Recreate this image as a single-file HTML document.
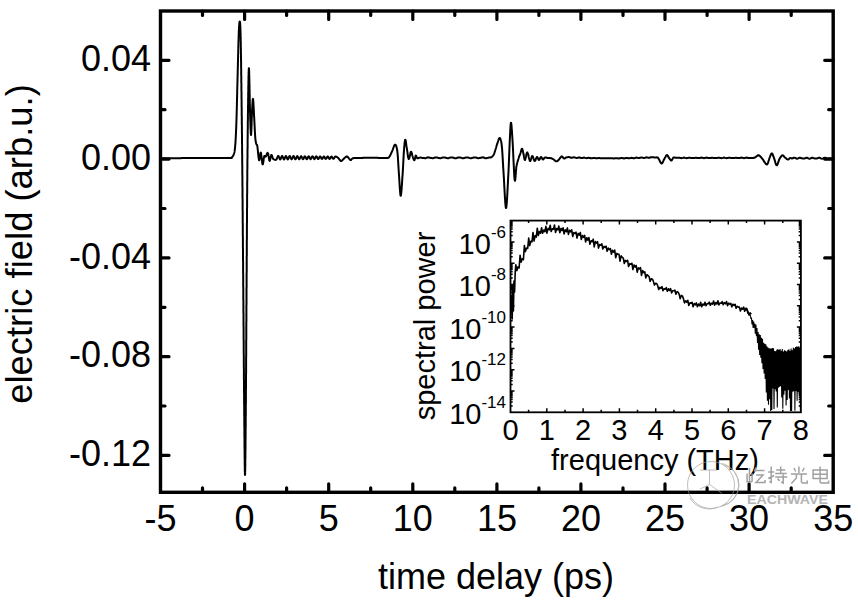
<!DOCTYPE html>
<html><head><meta charset="utf-8"><style>
html,body{margin:0;padding:0;background:#fff;width:858px;height:600px;overflow:hidden}
svg{display:block}
text{font-family:"Liberation Sans",sans-serif;fill:#000}
</style></head><body>
<svg width="858" height="600" viewBox="0 0 858 600">
<rect width="858" height="600" fill="#fff"/>
<path d="M161.5 158.2 L161.8 158.2 L162.1 158.2 L162.5 158.2 L162.9 158.2 L163.3 158.2 L163.7 158.2 L164.1 158.2 L164.5 158.2 L165.0 158.2 L165.5 158.2 L166.0 158.2 L166.5 158.2 L167.0 158.2 L167.5 158.2 L168.1 158.2 L168.6 158.2 L169.2 158.2 L169.8 158.2 L170.4 158.2 L171.0 158.2 L171.6 158.2 L172.3 158.2 L172.9 158.2 L173.5 158.2 L174.2 158.2 L174.8 158.2 L175.5 158.2 L176.2 158.2 L176.9 158.2 L177.6 158.2 L178.2 158.2 L178.9 158.2 L179.6 158.2 L180.3 158.2 L181.0 158.2 L181.7 158.1 L182.4 158.1 L183.2 158.1 L183.9 158.1 L184.6 158.1 L185.3 158.1 L186.0 158.1 L186.7 158.1 L187.4 158.1 L188.1 158.1 L188.8 158.1 L189.5 158.1 L190.1 158.1 L190.8 158.1 L191.5 158.1 L192.2 158.1 L192.8 158.1 L193.5 158.1 L194.1 158.1 L194.8 158.1 L195.4 158.1 L196.0 158.1 L196.6 158.1 L197.2 158.1 L197.8 158.1 L198.4 158.1 L198.9 158.1 L199.5 158.1 L200.0 158.1 L200.7 158.1 L201.4 158.1 L202.1 158.1 L202.8 158.1 L203.5 158.1 L204.3 158.1 L205.0 158.1 L205.7 158.1 L206.4 158.1 L207.1 158.1 L207.8 158.1 L208.5 158.1 L209.2 158.1 L210.0 158.1 L210.7 158.1 L211.4 158.1 L212.0 158.1 L212.7 158.1 L213.4 158.1 L214.1 158.1 L214.8 158.1 L215.4 158.1 L216.1 158.1 L216.8 158.1 L217.4 158.1 L218.0 158.1 L218.7 158.1 L219.3 158.1 L219.9 158.1 L220.5 158.1 L221.1 158.1 L221.6 158.1 L222.2 158.1 L222.8 158.1 L223.3 158.1 L223.8 158.1 L224.4 158.1 L224.9 158.0 L225.3 158.0 L225.8 158.0 L226.3 158.0 L226.7 158.0 L227.1 158.0 L227.5 158.0 L227.9 158.0 L228.3 158.0 L228.7 158.0 L229.0 158.0 L231.5 158.0 L231.9 157.9 L231.5 157.8 L231.5 157.5 L231.9 157.2 L232.4 156.9 L232.8 156.4 L233.1 155.8 L233.5 155.0 L233.7 154.6 L233.8 154.2 L234.0 153.8 L234.1 153.5 L234.2 153.0 L234.4 152.5 L234.5 151.9 L234.6 151.2 L234.7 150.3 L234.9 149.3 L235.0 148.0 L235.0 147.6 L235.1 147.2 L235.1 146.8 L235.1 146.4 L235.2 145.9 L235.2 145.5 L235.3 145.0 L235.3 144.6 L235.3 144.1 L235.4 143.7 L235.4 143.2 L235.4 142.7 L235.5 142.2 L235.5 141.6 L235.5 141.1 L235.6 140.6 L235.6 140.0 L235.6 139.5 L235.7 138.9 L235.7 138.3 L235.7 137.7 L235.8 137.1 L235.8 136.4 L235.8 135.8 L235.9 135.1 L235.9 134.4 L235.9 133.7 L236.0 133.0 L236.0 132.3 L236.0 131.6 L236.1 130.8 L236.1 130.0 L236.1 129.2 L236.2 128.4 L236.2 127.6 L236.2 126.8 L236.3 125.9 L236.3 125.0 L236.3 124.5 L236.3 124.1 L236.3 123.6 L236.4 123.1 L236.4 122.6 L236.4 122.1 L236.4 121.6 L236.4 121.1 L236.4 120.6 L236.5 120.1 L236.5 119.6 L236.5 119.0 L236.5 118.5 L236.5 118.0 L236.5 117.4 L236.6 116.9 L236.6 116.3 L236.6 115.7 L236.6 115.2 L236.6 114.6 L236.6 114.0 L236.7 113.4 L236.7 112.8 L236.7 112.2 L236.7 111.6 L236.7 111.0 L236.7 110.4 L236.8 109.8 L236.8 109.2 L236.8 108.6 L236.8 108.0 L236.8 107.3 L236.8 106.7 L236.9 106.1 L236.9 105.5 L236.9 104.8 L236.9 104.2 L236.9 103.6 L236.9 102.9 L236.9 102.3 L237.0 101.6 L237.0 101.0 L237.0 100.3 L237.0 99.7 L237.0 99.1 L237.0 98.4 L237.1 97.8 L237.1 97.1 L237.1 96.5 L237.1 95.8 L237.1 95.2 L237.1 94.5 L237.2 93.9 L237.2 93.2 L237.2 92.6 L237.2 91.9 L237.2 91.3 L237.2 90.6 L237.2 90.0 L237.3 89.4 L237.3 88.7 L237.3 88.1 L237.3 87.4 L237.3 86.8 L237.3 86.2 L237.4 85.5 L237.4 84.9 L237.4 84.3 L237.4 83.7 L237.4 83.0 L237.4 82.4 L237.5 81.8 L237.5 81.2 L237.5 80.6 L237.5 80.0 L237.5 79.4 L237.5 78.8 L237.5 78.2 L237.6 77.6 L237.6 76.9 L237.6 76.3 L237.6 75.7 L237.6 75.0 L237.6 74.4 L237.7 73.8 L237.7 73.1 L237.7 72.5 L237.7 71.8 L237.7 71.2 L237.7 70.5 L237.8 69.8 L237.8 69.2 L237.8 68.5 L237.8 67.8 L237.8 67.2 L237.8 66.5 L237.9 65.8 L237.9 65.2 L237.9 64.5 L237.9 63.8 L237.9 63.2 L237.9 62.5 L238.0 61.8 L238.0 61.2 L238.0 60.5 L238.0 59.8 L238.0 59.2 L238.0 58.5 L238.1 57.8 L238.1 57.2 L238.1 56.5 L238.1 55.9 L238.1 55.2 L238.1 54.6 L238.2 53.9 L238.2 53.3 L238.2 52.6 L238.2 52.0 L238.2 51.4 L238.2 50.7 L238.3 50.1 L238.3 49.5 L238.3 48.9 L238.3 48.3 L238.3 47.7 L238.3 47.1 L238.3 46.5 L238.4 45.9 L238.4 45.3 L238.4 44.7 L238.4 44.2 L238.4 43.6 L238.4 43.1 L238.5 42.5 L238.5 42.0 L238.5 41.5 L238.5 40.9 L238.5 40.4 L238.5 39.9 L238.6 39.4 L238.6 38.9 L238.6 38.5 L238.6 38.0 L238.6 37.5 L238.6 37.1 L238.6 36.6 L238.7 36.2 L238.7 35.8 L238.7 35.4 L238.7 35.0 L238.7 33.7 L238.8 32.5 L238.8 31.3 L238.9 30.3 L238.9 29.3 L239.0 28.3 L239.0 27.4 L239.1 26.6 L239.1 25.9 L239.2 25.2 L239.2 24.6 L239.3 24.0 L239.3 23.5 L239.4 23.1 L239.4 22.7 L239.4 22.4 L239.5 22.1 L239.5 21.9 L239.6 21.7 L239.6 21.6 L239.7 21.5 L239.7 21.5 L239.7 21.5 L239.8 21.5 L239.8 21.6 L239.9 21.7 L239.9 21.8 L240.0 22.0 L240.0 22.2 L240.0 22.5 L240.1 22.8 L240.1 23.2 L240.2 23.7 L240.2 24.2 L240.2 24.8 L240.3 25.5 L240.3 26.3 L240.4 27.2 L240.4 28.2 L240.4 29.4 L240.5 30.6 L240.5 31.9 L240.6 33.4 L240.6 35.0 L240.6 35.4 L240.6 35.8 L240.6 36.1 L240.6 36.5 L240.6 36.9 L240.7 37.3 L240.7 37.8 L240.7 38.2 L240.7 38.6 L240.7 39.0 L240.7 39.5 L240.7 39.9 L240.7 40.4 L240.7 40.9 L240.7 41.3 L240.7 41.8 L240.8 42.3 L240.8 42.8 L240.8 43.3 L240.8 43.8 L240.8 44.3 L240.8 44.8 L240.8 45.3 L240.8 45.8 L240.8 46.4 L240.8 46.9 L240.8 47.5 L240.9 48.0 L240.9 48.6 L240.9 49.1 L240.9 49.7 L240.9 50.2 L240.9 50.8 L240.9 51.4 L240.9 52.0 L240.9 52.5 L240.9 53.1 L240.9 53.7 L241.0 54.3 L241.0 54.9 L241.0 55.5 L241.0 56.1 L241.0 56.8 L241.0 57.4 L241.0 58.0 L241.0 58.6 L241.0 59.3 L241.0 59.9 L241.0 60.5 L241.1 61.2 L241.1 61.8 L241.1 62.4 L241.1 63.1 L241.1 63.7 L241.1 64.4 L241.1 65.0 L241.1 65.7 L241.1 66.4 L241.1 67.0 L241.1 67.7 L241.2 68.4 L241.2 69.0 L241.2 69.7 L241.2 70.4 L241.2 71.0 L241.2 71.7 L241.2 72.4 L241.2 73.1 L241.2 73.8 L241.2 74.4 L241.2 75.1 L241.3 75.8 L241.3 76.5 L241.3 77.2 L241.3 77.9 L241.3 78.5 L241.3 79.2 L241.3 79.9 L241.3 80.6 L241.3 81.3 L241.3 82.0 L241.3 82.7 L241.4 83.4 L241.4 84.1 L241.4 84.7 L241.4 85.4 L241.4 86.1 L241.4 86.8 L241.4 87.5 L241.4 88.2 L241.4 88.9 L241.4 89.6 L241.4 90.2 L241.4 90.9 L241.5 91.6 L241.5 92.3 L241.5 93.0 L241.5 93.6 L241.5 94.3 L241.5 95.0 L241.5 95.5 L241.5 96.1 L241.5 96.6 L241.5 97.2 L241.5 97.7 L241.5 98.2 L241.5 98.8 L241.6 99.3 L241.6 99.9 L241.6 100.4 L241.6 100.9 L241.6 101.5 L241.6 102.0 L241.6 102.5 L241.6 103.1 L241.6 103.6 L241.6 104.2 L241.6 104.7 L241.6 105.2 L241.6 105.8 L241.6 106.3 L241.6 106.9 L241.7 107.4 L241.7 107.9 L241.7 108.5 L241.7 109.0 L241.7 109.6 L241.7 110.1 L241.7 110.7 L241.7 111.2 L241.7 111.7 L241.7 112.3 L241.7 112.8 L241.7 113.4 L241.7 113.9 L241.7 114.5 L241.7 115.0 L241.7 115.6 L241.8 116.1 L241.8 116.7 L241.8 117.2 L241.8 117.8 L241.8 118.3 L241.8 118.9 L241.8 119.4 L241.8 120.0 L241.8 120.6 L241.8 121.1 L241.8 121.7 L241.8 122.2 L241.8 122.8 L241.8 123.4 L241.8 123.9 L241.8 124.5 L241.9 125.1 L241.9 125.6 L241.9 126.2 L241.9 126.8 L241.9 127.4 L241.9 127.9 L241.9 128.5 L241.9 129.1 L241.9 129.7 L241.9 130.2 L241.9 130.8 L241.9 131.4 L241.9 132.0 L241.9 132.6 L241.9 133.2 L241.9 133.8 L242.0 134.4 L242.0 135.0 L242.0 135.6 L242.0 136.2 L242.0 136.8 L242.0 137.4 L242.0 138.0 L242.0 138.6 L242.0 139.2 L242.0 139.8 L242.0 140.4 L242.0 141.0 L242.0 141.6 L242.0 142.3 L242.0 142.9 L242.0 143.5 L242.1 144.1 L242.1 144.8 L242.1 145.4 L242.1 146.0 L242.1 146.7 L242.1 147.3 L242.1 148.0 L242.1 148.6 L242.1 149.2 L242.1 149.9 L242.1 150.5 L242.1 151.2 L242.1 151.9 L242.1 152.5 L242.1 153.2 L242.1 153.8 L242.2 154.5 L242.2 155.2 L242.2 155.9 L242.2 156.5 L242.2 157.2 L242.2 157.9 L242.2 158.6 L242.2 159.3 L242.2 160.0 L242.2 160.7 L242.2 161.4 L242.2 162.1 L242.2 162.8 L242.2 163.5 L242.2 164.2 L242.3 164.9 L242.3 165.6 L242.3 166.3 L242.3 167.1 L242.3 167.8 L242.3 168.5 L242.3 169.3 L242.3 170.0 L242.3 170.5 L242.3 171.0 L242.3 171.5 L242.3 172.0 L242.3 172.5 L242.3 173.1 L242.3 173.6 L242.3 174.1 L242.3 174.6 L242.3 175.1 L242.4 175.6 L242.4 176.2 L242.4 176.7 L242.4 177.2 L242.4 177.7 L242.4 178.3 L242.4 178.8 L242.4 179.3 L242.4 179.9 L242.4 180.4 L242.4 180.9 L242.4 181.5 L242.4 182.0 L242.4 182.5 L242.4 183.1 L242.4 183.6 L242.4 184.2 L242.4 184.7 L242.4 185.3 L242.4 185.8 L242.4 186.4 L242.5 186.9 L242.5 187.4 L242.5 188.0 L242.5 188.6 L242.5 189.1 L242.5 189.7 L242.5 190.2 L242.5 190.8 L242.5 191.3 L242.5 191.9 L242.5 192.5 L242.5 193.0 L242.5 193.6 L242.5 194.1 L242.5 194.7 L242.5 195.3 L242.5 195.8 L242.5 196.4 L242.5 197.0 L242.5 197.6 L242.5 198.1 L242.6 198.7 L242.6 199.3 L242.6 199.9 L242.6 200.4 L242.6 201.0 L242.6 201.6 L242.6 202.2 L242.6 202.8 L242.6 203.3 L242.6 203.9 L242.6 204.5 L242.6 205.1 L242.6 205.7 L242.6 206.3 L242.6 206.8 L242.6 207.4 L242.6 208.0 L242.6 208.6 L242.6 209.2 L242.6 209.8 L242.6 210.4 L242.7 211.0 L242.7 211.6 L242.7 212.2 L242.7 212.8 L242.7 213.4 L242.7 214.0 L242.7 214.6 L242.7 215.2 L242.7 215.8 L242.7 216.4 L242.7 217.0 L242.7 217.6 L242.7 218.2 L242.7 218.8 L242.7 219.4 L242.7 220.0 L242.7 220.6 L242.7 221.3 L242.7 221.9 L242.7 222.5 L242.7 223.1 L242.8 223.7 L242.8 224.3 L242.8 224.9 L242.8 225.6 L242.8 226.2 L242.8 226.8 L242.8 227.4 L242.8 228.0 L242.8 228.6 L242.8 229.3 L242.8 229.9 L242.8 230.5 L242.8 231.1 L242.8 231.8 L242.8 232.4 L242.8 233.0 L242.8 233.6 L242.8 234.3 L242.8 234.9 L242.8 235.5 L242.9 236.1 L242.9 236.8 L242.9 237.4 L242.9 238.0 L242.9 238.7 L242.9 239.3 L242.9 239.9 L242.9 240.6 L242.9 241.2 L242.9 241.8 L242.9 242.5 L242.9 243.1 L242.9 243.7 L242.9 244.4 L242.9 245.0 L242.9 245.6 L242.9 246.3 L242.9 246.9 L242.9 247.6 L242.9 248.2 L243.0 248.8 L243.0 249.5 L243.0 250.1 L243.0 250.8 L243.0 251.4 L243.0 252.0 L243.0 252.7 L243.0 253.3 L243.0 254.0 L243.0 254.6 L243.0 255.3 L243.0 255.9 L243.0 256.5 L243.0 257.2 L243.0 257.8 L243.0 258.5 L243.0 259.1 L243.0 259.8 L243.0 260.4 L243.1 261.1 L243.1 261.7 L243.1 262.4 L243.1 263.0 L243.1 263.7 L243.1 264.3 L243.1 265.0 L243.1 265.6 L243.1 266.3 L243.1 266.9 L243.1 267.6 L243.1 268.2 L243.1 268.9 L243.1 269.5 L243.1 270.2 L243.1 270.8 L243.1 271.5 L243.1 272.1 L243.1 272.8 L243.1 273.5 L243.2 274.1 L243.2 274.8 L243.2 275.4 L243.2 276.1 L243.2 276.7 L243.2 277.4 L243.2 278.0 L243.2 278.7 L243.2 279.3 L243.2 280.0 L243.2 280.6 L243.2 281.1 L243.2 281.7 L243.2 282.2 L243.2 282.8 L243.2 283.4 L243.2 283.9 L243.2 284.5 L243.2 285.1 L243.2 285.7 L243.2 286.2 L243.3 286.8 L243.3 287.4 L243.3 288.0 L243.3 288.6 L243.3 289.2 L243.3 289.7 L243.3 290.3 L243.3 290.9 L243.3 291.5 L243.3 292.1 L243.3 292.7 L243.3 293.3 L243.3 293.9 L243.3 294.5 L243.3 295.1 L243.3 295.7 L243.3 296.3 L243.3 297.0 L243.3 297.6 L243.3 298.2 L243.3 298.8 L243.3 299.4 L243.4 300.0 L243.4 300.6 L243.4 301.3 L243.4 301.9 L243.4 302.5 L243.4 303.1 L243.4 303.8 L243.4 304.4 L243.4 305.0 L243.4 305.6 L243.4 306.3 L243.4 306.9 L243.4 307.5 L243.4 308.2 L243.4 308.8 L243.4 309.4 L243.4 310.1 L243.4 310.7 L243.4 311.3 L243.4 312.0 L243.4 312.6 L243.5 313.3 L243.5 313.9 L243.5 314.5 L243.5 315.2 L243.5 315.8 L243.5 316.5 L243.5 317.1 L243.5 317.8 L243.5 318.4 L243.5 319.1 L243.5 319.7 L243.5 320.4 L243.5 321.0 L243.5 321.7 L243.5 322.3 L243.5 323.0 L243.5 323.6 L243.5 324.3 L243.5 324.9 L243.5 325.6 L243.5 326.2 L243.6 326.9 L243.6 327.5 L243.6 328.2 L243.6 328.8 L243.6 329.5 L243.6 330.1 L243.6 330.8 L243.6 331.5 L243.6 332.1 L243.6 332.8 L243.6 333.4 L243.6 334.1 L243.6 334.7 L243.6 335.4 L243.6 336.0 L243.6 336.7 L243.6 337.4 L243.6 338.0 L243.6 338.7 L243.6 339.3 L243.6 340.0 L243.7 340.6 L243.7 341.3 L243.7 341.9 L243.7 342.6 L243.7 343.2 L243.7 343.9 L243.7 344.6 L243.7 345.2 L243.7 345.9 L243.7 346.5 L243.7 347.2 L243.7 347.8 L243.7 348.5 L243.7 349.1 L243.7 349.8 L243.7 350.4 L243.7 351.1 L243.7 351.7 L243.7 352.4 L243.7 353.0 L243.7 353.6 L243.8 354.3 L243.8 354.9 L243.8 355.6 L243.8 356.2 L243.8 356.9 L243.8 357.5 L243.8 358.2 L243.8 358.8 L243.8 359.4 L243.8 360.1 L243.8 360.7 L243.8 361.3 L243.8 362.0 L243.8 362.6 L243.8 363.2 L243.8 363.9 L243.8 364.5 L243.8 365.1 L243.8 365.8 L243.8 366.4 L243.8 367.0 L243.9 367.6 L243.9 368.3 L243.9 368.9 L243.9 369.5 L243.9 370.1 L243.9 370.7 L243.9 371.4 L243.9 372.0 L243.9 372.6 L243.9 373.2 L243.9 373.8 L243.9 374.4 L243.9 375.0 L243.9 375.6 L243.9 376.2 L243.9 376.8 L243.9 377.4 L243.9 378.0 L243.9 378.6 L243.9 379.2 L243.9 379.8 L244.0 380.4 L244.0 381.0 L244.0 381.6 L244.0 382.2 L244.0 382.8 L244.0 383.4 L244.0 383.9 L244.0 384.5 L244.0 385.1 L244.0 385.7 L244.0 386.2 L244.0 386.8 L244.0 387.4 L244.0 388.0 L244.0 388.5 L244.0 389.1 L244.0 389.6 L244.0 390.2 L244.0 390.8 L244.0 391.3 L244.0 391.9 L244.0 392.4 L244.1 393.0 L244.1 393.5 L244.1 394.0 L244.1 394.6 L244.1 395.1 L244.1 395.7 L244.1 396.2 L244.1 396.7 L244.1 397.3 L244.1 397.8 L244.1 398.3 L244.1 398.8 L244.1 399.3 L244.1 399.9 L244.1 400.4 L244.1 400.9 L244.1 401.4 L244.1 401.9 L244.1 402.4 L244.1 402.9 L244.1 403.4 L244.1 403.9 L244.1 404.4 L244.2 404.8 L244.2 405.3 L244.2 405.8 L244.2 406.3 L244.2 406.8 L244.2 407.2 L244.2 407.7 L244.2 408.2 L244.2 408.6 L244.2 409.1 L244.2 409.5 L244.2 410.0 L244.2 410.9 L244.2 411.8 L244.2 412.7 L244.2 413.6 L244.2 414.5 L244.2 415.4 L244.3 416.3 L244.3 417.2 L244.3 418.1 L244.3 419.0 L244.3 419.9 L244.3 420.8 L244.3 421.7 L244.3 422.6 L244.3 423.5 L244.3 424.3 L244.3 425.2 L244.3 426.1 L244.4 427.0 L244.4 427.8 L244.4 428.7 L244.4 429.6 L244.4 430.4 L244.4 431.3 L244.4 432.2 L244.4 433.0 L244.4 433.9 L244.4 434.7 L244.4 435.6 L244.4 436.4 L244.4 437.2 L244.5 438.0 L244.5 438.9 L244.5 439.7 L244.5 440.5 L244.5 441.3 L244.5 442.1 L244.5 442.9 L244.5 443.7 L244.5 444.5 L244.5 445.2 L244.5 446.0 L244.5 446.8 L244.5 447.5 L244.5 448.3 L244.6 449.0 L244.6 449.8 L244.6 450.5 L244.6 451.2 L244.6 451.9 L244.6 452.6 L244.6 453.3 L244.6 454.0 L244.6 454.7 L244.6 455.4 L244.6 456.0 L244.6 456.7 L244.6 457.3 L244.6 458.0 L244.7 458.6 L244.7 459.2 L244.7 459.8 L244.7 460.4 L244.7 461.0 L244.7 461.6 L244.7 462.2 L244.7 462.7 L244.7 463.3 L244.7 463.8 L244.7 464.3 L244.7 464.9 L244.7 465.4 L244.7 465.9 L244.8 466.4 L244.8 466.8 L244.8 467.3 L244.8 467.7 L244.8 468.2 L244.8 468.6 L244.8 469.0 L244.8 469.4 L244.8 469.8 L244.8 470.2 L244.8 470.5 L244.8 470.9 L244.8 471.2 L244.8 471.6 L244.9 471.9 L244.9 472.2 L244.9 472.4 L244.9 472.7 L244.9 473.0 L244.9 473.2 L244.9 473.4 L244.9 473.6 L244.9 473.8 L244.9 474.0 L244.9 474.2 L244.9 474.3 L244.9 474.5 L244.9 474.6 L245.0 474.7 L245.0 474.8 L245.0 474.9 L245.0 474.9 L245.0 475.0 L245.0 475.0 L245.0 475.0 L245.0 475.0 L245.0 475.0 L245.0 474.9 L245.0 474.9 L245.0 474.8 L245.0 474.7 L245.1 474.6 L245.1 474.5 L245.1 474.3 L245.1 474.2 L245.1 474.0 L245.1 473.8 L245.1 473.6 L245.1 473.4 L245.1 473.2 L245.1 473.0 L245.1 472.7 L245.1 472.4 L245.1 472.2 L245.1 471.9 L245.2 471.6 L245.2 471.2 L245.2 470.9 L245.2 470.5 L245.2 470.2 L245.2 469.8 L245.2 469.4 L245.2 469.0 L245.2 468.6 L245.2 468.2 L245.2 467.7 L245.2 467.3 L245.2 466.8 L245.3 466.4 L245.3 465.9 L245.3 465.4 L245.3 464.9 L245.3 464.3 L245.3 463.8 L245.3 463.3 L245.3 462.7 L245.3 462.2 L245.3 461.6 L245.3 461.0 L245.3 460.4 L245.3 459.8 L245.3 459.2 L245.4 458.6 L245.4 458.0 L245.4 457.3 L245.4 456.7 L245.4 456.0 L245.4 455.4 L245.4 454.7 L245.4 454.0 L245.4 453.3 L245.4 452.6 L245.4 451.9 L245.4 451.2 L245.4 450.5 L245.5 449.8 L245.5 449.0 L245.5 448.3 L245.5 447.5 L245.5 446.8 L245.5 446.0 L245.5 445.2 L245.5 444.5 L245.5 443.7 L245.5 442.9 L245.5 442.1 L245.5 441.3 L245.5 440.5 L245.5 439.7 L245.6 438.9 L245.6 438.0 L245.6 437.2 L245.6 436.4 L245.6 435.6 L245.6 434.7 L245.6 433.9 L245.6 433.0 L245.6 432.2 L245.6 431.3 L245.6 430.4 L245.6 429.6 L245.6 428.7 L245.7 427.8 L245.7 427.0 L245.7 426.1 L245.7 425.2 L245.7 424.3 L245.7 423.5 L245.7 422.6 L245.7 421.7 L245.7 420.8 L245.7 419.9 L245.7 419.0 L245.7 418.1 L245.7 417.2 L245.7 416.3 L245.8 415.4 L245.8 414.5 L245.8 413.6 L245.8 412.7 L245.8 411.8 L245.8 410.9 L245.8 410.0 L245.8 409.5 L245.8 409.1 L245.8 408.6 L245.8 408.2 L245.8 407.7 L245.8 407.2 L245.8 406.8 L245.8 406.3 L245.8 405.8 L245.8 405.3 L245.8 404.8 L245.8 404.4 L245.8 403.9 L245.9 403.4 L245.9 402.9 L245.9 402.4 L245.9 401.9 L245.9 401.4 L245.9 400.9 L245.9 400.3 L245.9 399.8 L245.9 399.3 L245.9 398.8 L245.9 398.3 L245.9 397.7 L245.9 397.2 L245.9 396.7 L245.9 396.2 L245.9 395.6 L245.9 395.1 L245.9 394.5 L245.9 394.0 L245.9 393.5 L245.9 392.9 L245.9 392.4 L245.9 391.8 L245.9 391.3 L245.9 390.7 L245.9 390.1 L245.9 389.6 L246.0 389.0 L246.0 388.4 L246.0 387.9 L246.0 387.3 L246.0 386.7 L246.0 386.2 L246.0 385.6 L246.0 385.0 L246.0 384.4 L246.0 383.8 L246.0 383.3 L246.0 382.7 L246.0 382.1 L246.0 381.5 L246.0 380.9 L246.0 380.3 L246.0 379.7 L246.0 379.1 L246.0 378.5 L246.0 377.9 L246.0 377.3 L246.0 376.7 L246.0 376.1 L246.0 375.5 L246.0 374.9 L246.0 374.3 L246.1 373.6 L246.1 373.0 L246.1 372.4 L246.1 371.8 L246.1 371.2 L246.1 370.6 L246.1 369.9 L246.1 369.3 L246.1 368.7 L246.1 368.1 L246.1 367.4 L246.1 366.8 L246.1 366.2 L246.1 365.5 L246.1 364.9 L246.1 364.3 L246.1 363.6 L246.1 363.0 L246.1 362.4 L246.1 361.7 L246.1 361.1 L246.1 360.5 L246.1 359.8 L246.1 359.2 L246.1 358.5 L246.1 357.9 L246.1 357.2 L246.2 356.6 L246.2 356.0 L246.2 355.3 L246.2 354.7 L246.2 354.0 L246.2 353.4 L246.2 352.7 L246.2 352.1 L246.2 351.4 L246.2 350.8 L246.2 350.1 L246.2 349.5 L246.2 348.8 L246.2 348.2 L246.2 347.5 L246.2 346.8 L246.2 346.2 L246.2 345.5 L246.2 344.9 L246.2 344.2 L246.2 343.6 L246.2 342.9 L246.2 342.3 L246.2 341.6 L246.2 340.9 L246.2 340.3 L246.3 339.6 L246.3 339.0 L246.3 338.3 L246.3 337.7 L246.3 337.0 L246.3 336.3 L246.3 335.7 L246.3 335.0 L246.3 334.4 L246.3 333.7 L246.3 333.1 L246.3 332.4 L246.3 331.7 L246.3 331.1 L246.3 330.4 L246.3 329.8 L246.3 329.1 L246.3 328.5 L246.3 327.8 L246.3 327.2 L246.3 326.5 L246.3 325.8 L246.3 325.2 L246.3 324.5 L246.3 323.9 L246.3 323.2 L246.3 322.6 L246.4 321.9 L246.4 321.3 L246.4 320.6 L246.4 320.0 L246.4 319.3 L246.4 318.7 L246.4 318.0 L246.4 317.4 L246.4 316.8 L246.4 316.1 L246.4 315.5 L246.4 314.8 L246.4 314.2 L246.4 313.5 L246.4 312.9 L246.4 312.3 L246.4 311.6 L246.4 311.0 L246.4 310.4 L246.4 309.7 L246.4 309.1 L246.4 308.5 L246.4 307.8 L246.4 307.2 L246.4 306.6 L246.4 305.9 L246.4 305.3 L246.5 304.7 L246.5 304.1 L246.5 303.4 L246.5 302.8 L246.5 302.2 L246.5 301.6 L246.5 301.0 L246.5 300.4 L246.5 299.7 L246.5 299.1 L246.5 298.5 L246.5 297.9 L246.5 297.3 L246.5 296.7 L246.5 296.1 L246.5 295.5 L246.5 294.9 L246.5 294.3 L246.5 293.7 L246.5 293.1 L246.5 292.5 L246.5 291.9 L246.5 291.3 L246.5 290.7 L246.5 290.2 L246.5 289.6 L246.5 289.0 L246.5 288.4 L246.6 287.8 L246.6 287.3 L246.6 286.7 L246.6 286.1 L246.6 285.6 L246.6 285.0 L246.6 284.4 L246.6 283.9 L246.6 283.3 L246.6 282.8 L246.6 282.2 L246.6 281.6 L246.6 281.1 L246.6 280.5 L246.6 280.0 L246.6 279.3 L246.6 278.7 L246.6 278.0 L246.6 277.3 L246.6 276.7 L246.6 276.0 L246.6 275.3 L246.6 274.7 L246.6 274.0 L246.6 273.3 L246.6 272.7 L246.7 272.0 L246.7 271.3 L246.7 270.7 L246.7 270.0 L246.7 269.4 L246.7 268.7 L246.7 268.0 L246.7 267.4 L246.7 266.7 L246.7 266.1 L246.7 265.4 L246.7 264.8 L246.7 264.1 L246.7 263.5 L246.7 262.8 L246.7 262.2 L246.7 261.5 L246.7 260.9 L246.7 260.2 L246.7 259.6 L246.7 258.9 L246.7 258.3 L246.7 257.6 L246.7 257.0 L246.7 256.4 L246.8 255.7 L246.8 255.1 L246.8 254.4 L246.8 253.8 L246.8 253.2 L246.8 252.5 L246.8 251.9 L246.8 251.2 L246.8 250.6 L246.8 250.0 L246.8 249.3 L246.8 248.7 L246.8 248.1 L246.8 247.4 L246.8 246.8 L246.8 246.2 L246.8 245.6 L246.8 244.9 L246.8 244.3 L246.8 243.7 L246.8 243.1 L246.8 242.4 L246.8 241.8 L246.8 241.2 L246.8 240.6 L246.8 239.9 L246.9 239.3 L246.9 238.7 L246.9 238.1 L246.9 237.5 L246.9 236.8 L246.9 236.2 L246.9 235.6 L246.9 235.0 L246.9 234.4 L246.9 233.8 L246.9 233.2 L246.9 232.5 L246.9 231.9 L246.9 231.3 L246.9 230.7 L246.9 230.1 L246.9 229.5 L246.9 228.9 L246.9 228.3 L246.9 227.7 L246.9 227.1 L246.9 226.5 L246.9 225.9 L246.9 225.3 L246.9 224.7 L246.9 224.1 L246.9 223.5 L247.0 222.9 L247.0 222.3 L247.0 221.7 L247.0 221.1 L247.0 220.5 L247.0 219.9 L247.0 219.3 L247.0 218.7 L247.0 218.1 L247.0 217.5 L247.0 216.9 L247.0 216.3 L247.0 215.8 L247.0 215.2 L247.0 214.6 L247.0 214.0 L247.0 213.4 L247.0 212.8 L247.0 212.2 L247.0 211.7 L247.0 211.1 L247.0 210.5 L247.0 209.9 L247.0 209.3 L247.0 208.8 L247.0 208.2 L247.1 207.6 L247.1 207.0 L247.1 206.5 L247.1 205.9 L247.1 205.3 L247.1 204.7 L247.1 204.2 L247.1 203.6 L247.1 203.0 L247.1 202.4 L247.1 201.9 L247.1 201.3 L247.1 200.7 L247.1 200.2 L247.1 199.6 L247.1 199.0 L247.1 198.5 L247.1 197.9 L247.1 197.4 L247.1 196.8 L247.1 196.2 L247.1 195.7 L247.1 195.1 L247.1 194.6 L247.1 194.0 L247.2 193.4 L247.2 192.9 L247.2 192.3 L247.2 191.8 L247.2 191.2 L247.2 190.7 L247.2 190.1 L247.2 189.6 L247.2 189.0 L247.2 188.5 L247.2 187.9 L247.2 187.4 L247.2 186.8 L247.2 186.3 L247.2 185.7 L247.2 185.2 L247.2 184.6 L247.2 184.1 L247.2 183.6 L247.2 183.0 L247.2 182.5 L247.2 181.9 L247.2 181.4 L247.3 180.9 L247.3 180.3 L247.3 179.8 L247.3 179.3 L247.3 178.7 L247.3 178.2 L247.3 177.7 L247.3 177.1 L247.3 176.6 L247.3 176.1 L247.3 175.5 L247.3 175.0 L247.3 174.3 L247.3 173.6 L247.3 172.9 L247.3 172.2 L247.3 171.5 L247.3 170.8 L247.3 170.1 L247.3 169.4 L247.4 168.7 L247.4 168.0 L247.4 167.3 L247.4 166.7 L247.4 166.0 L247.4 165.3 L247.4 164.6 L247.4 163.9 L247.4 163.2 L247.4 162.5 L247.4 161.8 L247.4 161.1 L247.4 160.4 L247.4 159.7 L247.4 159.0 L247.5 158.3 L247.5 157.6 L247.5 157.0 L247.5 156.3 L247.5 155.6 L247.5 154.9 L247.5 154.2 L247.5 153.5 L247.5 152.8 L247.5 152.2 L247.5 151.5 L247.5 150.8 L247.5 150.1 L247.5 149.4 L247.5 148.8 L247.6 148.1 L247.6 147.4 L247.6 146.7 L247.6 146.1 L247.6 145.4 L247.6 144.7 L247.6 144.1 L247.6 143.4 L247.6 142.7 L247.6 142.1 L247.6 141.4 L247.6 140.7 L247.6 140.1 L247.6 139.4 L247.6 138.8 L247.7 138.1 L247.7 137.5 L247.7 136.8 L247.7 136.2 L247.7 135.5 L247.7 134.9 L247.7 134.2 L247.7 133.6 L247.7 132.9 L247.7 132.3 L247.7 131.7 L247.7 131.0 L247.7 130.4 L247.7 129.8 L247.8 129.2 L247.8 128.5 L247.8 127.9 L247.8 127.3 L247.8 126.7 L247.8 126.1 L247.8 125.4 L247.8 124.8 L247.8 124.2 L247.8 123.6 L247.8 123.0 L247.8 122.4 L247.8 121.8 L247.8 121.2 L247.9 120.6 L247.9 120.1 L247.9 119.5 L247.9 118.9 L247.9 118.3 L247.9 117.7 L247.9 117.2 L247.9 116.6 L247.9 116.0 L247.9 115.5 L247.9 114.9 L247.9 114.3 L247.9 113.8 L247.9 113.2 L248.0 112.7 L248.0 112.1 L248.0 111.6 L248.0 111.1 L248.0 110.5 L248.0 110.0 L248.0 109.5 L248.0 108.9 L248.0 108.4 L248.0 107.9 L248.0 107.4 L248.0 106.9 L248.0 106.4 L248.0 105.9 L248.0 105.4 L248.1 104.9 L248.1 104.4 L248.1 103.9 L248.1 103.4 L248.1 102.9 L248.1 102.4 L248.1 102.0 L248.1 101.5 L248.1 101.0 L248.1 100.6 L248.1 100.1 L248.1 99.7 L248.1 99.2 L248.1 98.8 L248.1 98.3 L248.2 97.9 L248.2 97.5 L248.2 97.1 L248.2 96.6 L248.2 96.2 L248.2 95.8 L248.2 95.4 L248.2 95.0 L248.2 93.8 L248.2 92.6 L248.3 91.5 L248.3 90.3 L248.3 89.2 L248.3 88.1 L248.3 87.1 L248.3 86.0 L248.4 85.0 L248.4 84.0 L248.4 83.0 L248.4 82.1 L248.4 81.2 L248.5 80.3 L248.5 79.4 L248.5 78.6 L248.5 77.8 L248.5 77.0 L248.5 76.2 L248.6 75.5 L248.6 74.8 L248.6 74.2 L248.6 73.5 L248.6 72.9 L248.6 72.4 L248.7 71.8 L248.7 71.3 L248.7 70.9 L248.7 70.4 L248.7 70.1 L248.8 69.7 L248.8 69.4 L248.8 69.1 L248.8 68.8 L248.8 68.6 L248.8 68.5 L248.9 68.3 L248.9 68.2 L248.9 68.2 L248.9 68.2 L248.9 68.2 L249.0 68.2 L249.0 68.4 L249.0 68.5 L249.0 68.6 L249.0 68.8 L249.0 69.0 L249.1 69.2 L249.1 69.4 L249.1 69.7 L249.1 70.0 L249.1 70.3 L249.1 70.7 L249.1 71.1 L249.1 71.5 L249.2 71.9 L249.2 72.3 L249.2 72.8 L249.2 73.3 L249.2 73.8 L249.2 74.3 L249.2 74.9 L249.3 75.5 L249.3 76.1 L249.3 76.7 L249.3 77.3 L249.3 77.9 L249.3 78.6 L249.3 79.2 L249.4 79.9 L249.4 80.6 L249.4 81.3 L249.4 82.0 L249.4 82.7 L249.4 83.4 L249.5 84.2 L249.5 84.9 L249.5 85.7 L249.5 86.4 L249.5 87.2 L249.5 87.9 L249.5 88.7 L249.6 89.5 L249.6 90.2 L249.6 91.0 L249.6 91.8 L249.6 92.6 L249.6 93.3 L249.6 94.1 L249.7 94.9 L249.7 95.6 L249.7 96.4 L249.7 97.1 L249.7 97.9 L249.7 98.6 L249.7 99.4 L249.8 100.1 L249.8 100.8 L249.8 101.5 L249.8 102.2 L249.8 102.9 L249.8 103.6 L249.9 104.2 L249.9 104.9 L249.9 105.5 L249.9 106.2 L249.9 106.8 L249.9 107.3 L249.9 107.9 L250.0 108.5 L250.0 109.0 L250.0 109.5 L250.0 110.0 L250.0 110.8 L250.0 111.6 L250.1 112.5 L250.1 113.3 L250.1 114.1 L250.1 115.0 L250.2 115.8 L250.2 116.7 L250.2 117.5 L250.2 118.3 L250.3 119.2 L250.3 120.0 L250.3 120.8 L250.3 121.6 L250.4 122.4 L250.4 123.2 L250.4 124.0 L250.4 124.7 L250.5 125.5 L250.5 126.2 L250.5 126.9 L250.5 127.6 L250.6 128.2 L250.6 128.9 L250.6 129.5 L250.6 130.1 L250.7 130.7 L250.7 131.2 L250.7 131.7 L250.7 132.2 L250.8 132.6 L250.8 133.0 L250.8 133.4 L250.8 133.7 L250.9 134.1 L250.9 134.3 L250.9 134.5 L250.9 134.7 L251.0 134.9 L251.0 135.0 L251.0 135.0 L251.0 135.0 L251.1 134.9 L251.1 134.8 L251.1 134.6 L251.1 134.3 L251.2 134.0 L251.2 133.6 L251.2 133.1 L251.2 132.6 L251.3 132.1 L251.3 131.6 L251.3 130.9 L251.3 130.3 L251.4 129.6 L251.4 128.9 L251.4 128.2 L251.4 127.4 L251.5 126.7 L251.5 125.9 L251.5 125.1 L251.6 124.3 L251.6 123.4 L251.6 122.6 L251.6 121.8 L251.7 121.0 L251.7 120.2 L251.7 119.4 L251.7 118.6 L251.8 117.8 L251.8 117.0 L251.8 116.3 L251.8 115.6 L251.9 114.9 L251.9 114.2 L251.9 113.6 L251.9 113.0 L252.0 112.5 L252.0 112.0 L252.0 111.1 L252.1 110.2 L252.1 109.3 L252.2 108.4 L252.2 107.5 L252.3 106.6 L252.3 105.7 L252.4 104.9 L252.4 104.0 L252.5 103.3 L252.5 102.5 L252.6 101.8 L252.6 101.2 L252.7 100.6 L252.7 100.1 L252.7 99.7 L252.8 99.3 L252.8 99.1 L252.9 98.9 L252.9 98.9 L253.0 99.0 L253.0 99.1 L253.1 99.3 L253.1 99.6 L253.1 99.9 L253.2 100.2 L253.2 100.6 L253.3 101.1 L253.3 101.6 L253.3 102.1 L253.4 102.7 L253.4 103.3 L253.5 104.0 L253.5 104.7 L253.5 105.4 L253.6 106.1 L253.6 106.8 L253.7 107.6 L253.7 108.3 L253.7 109.1 L253.8 109.9 L253.8 110.7 L253.9 111.5 L253.9 112.2 L253.9 113.0 L254.0 113.8 L254.0 114.5 L254.0 115.3 L254.1 116.0 L254.1 116.7 L254.2 117.4 L254.2 118.0 L254.2 118.6 L254.3 119.2 L254.3 119.8 L254.3 120.5 L254.4 121.1 L254.4 121.8 L254.4 122.4 L254.5 123.1 L254.5 123.8 L254.5 124.4 L254.6 125.1 L254.6 125.8 L254.6 126.5 L254.7 127.1 L254.7 127.8 L254.7 128.5 L254.8 129.1 L254.8 129.8 L254.8 130.4 L254.9 131.1 L254.9 131.7 L254.9 132.3 L255.0 132.9 L255.0 133.5 L255.0 134.1 L255.1 134.7 L255.1 135.2 L255.1 135.7 L255.2 136.2 L255.2 136.7 L255.2 137.2 L255.3 137.6 L255.3 138.0 L255.4 139.2 L255.5 140.2 L255.6 141.0 L255.7 141.6 L255.8 142.1 L255.9 142.6 L256.0 142.9 L256.1 143.3 L256.2 143.6 L256.3 144.0 L256.6 144.5 L256.9 144.6 L257.3 146.0 L257.4 146.4 L257.4 146.9 L257.5 147.4 L257.6 148.0 L257.6 148.7 L257.7 149.4 L257.8 150.1 L257.9 150.9 L258.0 151.7 L258.0 152.5 L258.1 153.3 L258.2 154.1 L258.3 154.9 L258.4 155.7 L258.4 156.4 L258.5 157.1 L258.6 157.7 L258.7 158.3 L258.8 158.9 L258.9 159.3 L258.9 159.7 L259.0 160.0 L259.1 160.2 L259.2 160.3 L259.4 160.0 L259.5 159.5 L259.6 158.8 L259.8 157.9 L259.9 157.0 L260.0 156.0 L260.1 155.0 L260.3 154.1 L260.4 153.4 L260.5 152.8 L260.7 152.5 L260.8 152.5 L260.9 152.7 L261.0 153.0 L261.1 153.4 L261.2 154.0 L261.2 154.6 L261.3 155.3 L261.4 156.0 L261.5 156.8 L261.6 157.7 L261.7 158.5 L261.8 159.3 L261.9 160.2 L262.0 161.0 L262.1 161.7 L262.2 162.4 L262.2 163.0 L262.3 163.5 L262.4 163.9 L262.5 164.2 L262.6 164.4 L262.7 164.4 L262.9 164.2 L263.0 163.8 L263.1 163.2 L263.2 162.5 L263.4 161.7 L263.5 160.9 L263.6 160.0 L263.7 159.2 L263.8 158.3 L264.0 157.6 L264.1 156.9 L264.2 156.4 L264.3 156.0 L265.0 156.1 L265.7 156.7 L266.0 156.3 L266.3 155.6 L266.6 154.7 L266.9 153.9 L267.2 153.2 L267.5 152.8 L267.8 152.8 L267.9 153.1 L268.1 153.5 L268.2 154.1 L268.4 154.9 L268.5 155.7 L268.7 156.5 L268.8 157.4 L268.9 158.3 L269.1 159.1 L269.2 159.7 L269.3 160.3 L269.5 160.7 L269.6 160.9 L269.8 160.8 L269.9 160.4 L270.1 159.8 L270.3 159.0 L270.4 158.2 L270.6 157.3 L270.8 156.4 L271.0 155.7 L271.1 155.2 L271.3 154.9 L271.6 155.0 L271.8 155.4 L272.1 156.0 L272.4 156.8 L272.6 157.6 L272.9 158.3 L273.1 158.8 L273.8 159.4 L274.5 159.6 L275.1 159.8 L275.7 159.9 L276.4 159.6 L276.7 159.1 L277.0 158.3 L277.3 157.5 L277.7 156.7 L278.0 156.1 L278.3 155.9 L278.6 156.1 L278.9 156.8 L279.2 157.7 L279.6 158.6 L279.9 159.2 L280.2 159.5 L280.5 159.3 L280.8 158.6 L281.1 157.7 L281.5 156.8 L281.8 156.2 L282.1 155.9 L282.4 156.2 L282.7 156.8 L283.0 157.7 L283.4 158.5 L283.7 159.2 L284.0 159.5 L284.3 159.2 L284.6 158.6 L284.9 157.7 L285.3 156.9 L285.6 156.2 L285.9 156.0 L286.2 156.2 L286.5 156.8 L286.8 157.7 L287.2 158.5 L287.5 159.2 L287.8 159.4 L288.1 159.2 L288.4 158.5 L288.7 157.7 L289.1 156.9 L289.4 156.3 L289.7 156.0 L290.0 156.2 L290.3 156.9 L290.6 157.7 L291.0 158.5 L291.3 159.1 L291.6 159.4 L291.9 159.1 L292.2 158.5 L292.5 157.7 L292.9 156.9 L293.2 156.3 L293.5 156.0 L293.8 156.3 L294.1 156.9 L294.4 157.7 L294.8 158.5 L295.1 159.1 L295.4 159.3 L295.7 159.1 L296.0 158.5 L296.3 157.7 L296.7 156.9 L297.0 156.3 L297.3 156.1 L297.6 156.3 L297.9 156.9 L298.2 157.7 L298.6 158.4 L298.9 159.0 L299.2 159.3 L299.5 159.1 L299.8 158.5 L300.1 157.7 L300.5 157.0 L300.8 156.4 L301.1 156.1 L301.4 156.4 L301.7 156.9 L302.0 157.7 L302.4 158.4 L302.7 159.0 L303.0 159.2 L303.4 158.9 L303.8 158.2 L304.1 157.3 L304.5 156.5 L304.9 156.2 L305.3 156.5 L305.7 157.2 L306.0 158.1 L306.4 158.9 L306.8 159.2 L307.2 158.9 L307.6 158.2 L307.9 157.3 L308.3 156.6 L308.7 156.2 L309.1 156.5 L309.5 157.3 L309.8 158.1 L310.2 158.8 L310.6 159.1 L311.0 158.8 L311.4 158.1 L311.7 157.3 L312.1 156.6 L312.5 156.3 L312.9 156.6 L313.3 157.3 L313.6 158.1 L314.0 158.8 L314.4 159.1 L314.8 158.8 L315.2 158.1 L315.5 157.3 L315.9 156.6 L316.3 156.3 L316.7 156.6 L317.1 157.3 L317.4 158.1 L317.8 158.8 L318.2 159.0 L318.6 158.8 L319.0 158.1 L319.3 157.3 L319.7 156.7 L320.1 156.4 L320.5 156.7 L320.9 157.3 L321.2 158.1 L321.6 158.7 L322.0 159.0 L322.4 158.7 L322.8 158.1 L323.1 157.3 L323.5 156.7 L323.9 156.4 L324.3 156.7 L324.7 157.3 L325.0 158.1 L325.4 158.7 L325.8 158.9 L326.2 158.7 L326.6 158.1 L326.9 157.4 L327.3 156.7 L327.7 156.5 L328.1 156.7 L328.5 157.3 L328.8 158.0 L329.2 158.6 L329.6 158.9 L330.0 158.7 L330.4 158.1 L330.7 157.4 L331.1 156.8 L331.5 156.5 L332.0 156.9 L332.4 157.7 L332.9 158.5 L333.4 158.8 L333.9 158.5 L334.3 157.8 L334.8 157.0 L335.3 156.6 L335.9 156.6 L336.6 156.8 L337.3 157.3 L338.0 157.8 L338.4 158.2 L338.8 158.7 L339.3 159.3 L339.7 159.9 L340.1 160.4 L340.6 160.8 L341.0 161.0 L341.5 160.9 L342.0 160.6 L342.5 160.1 L343.0 159.5 L343.5 159.0 L344.0 158.5 L344.5 158.1 L345.0 157.6 L345.5 157.1 L346.0 156.7 L346.5 156.5 L347.0 156.5 L347.4 156.7 L347.9 157.1 L348.3 157.6 L348.8 158.2 L349.2 158.8 L349.7 159.4 L350.1 159.8 L350.5 160.0 L351.0 160.0 L351.4 159.6 L351.7 159.1 L352.2 158.6 L353.0 158.3 L353.4 158.2 L353.9 158.1 L354.4 158.1 L354.9 158.0 L355.4 158.0 L356.0 158.0 L356.7 158.0 L357.4 158.0 L358.2 157.9 L359.0 157.9 L360.0 157.9 L360.5 157.9 L360.9 157.9 L361.5 157.9 L362.0 157.9 L362.6 157.9 L363.1 157.8 L363.7 157.8 L364.3 157.8 L365.0 157.8 L365.6 157.8 L366.3 157.8 L366.9 157.8 L367.6 157.8 L368.2 157.8 L368.9 157.8 L369.6 157.8 L370.2 157.8 L370.9 157.8 L371.5 157.8 L372.1 157.8 L372.7 157.8 L373.3 157.8 L373.9 157.8 L374.5 157.8 L375.0 157.8 L375.7 157.8 L376.4 157.8 L377.2 157.8 L377.9 157.8 L378.6 157.9 L379.3 157.9 L379.9 157.9 L380.6 157.9 L381.2 157.9 L381.9 158.0 L382.5 158.0 L383.1 158.0 L383.6 158.0 L384.2 158.0 L384.7 158.0 L385.2 158.0 L385.6 158.0 L386.0 158.0 L387.1 158.0 L387.8 158.0 L388.2 157.9 L388.5 157.7 L389.0 157.2 L389.3 156.8 L389.6 156.4 L389.9 155.9 L390.2 155.3 L390.5 154.7 L390.8 154.1 L391.1 153.4 L391.4 152.8 L391.7 152.1 L392.0 151.5 L392.3 150.9 L392.5 150.3 L392.8 149.6 L393.0 148.8 L393.3 148.1 L393.5 147.3 L393.8 146.7 L394.1 146.0 L394.3 145.5 L394.5 145.1 L394.8 144.8 L395.0 144.7 L395.2 144.7 L395.5 144.8 L395.7 145.0 L395.9 145.3 L396.1 145.7 L396.3 146.2 L396.5 146.9 L396.7 147.7 L396.9 148.6 L397.1 149.7 L397.3 151.0 L397.3 151.4 L397.4 151.8 L397.4 152.2 L397.5 152.7 L397.5 153.2 L397.6 153.7 L397.6 154.2 L397.7 154.7 L397.7 155.3 L397.8 155.8 L397.8 156.4 L397.9 157.0 L397.9 157.6 L397.9 158.2 L398.0 158.8 L398.0 159.5 L398.1 160.1 L398.1 160.8 L398.1 161.4 L398.2 162.1 L398.2 162.8 L398.3 163.4 L398.3 164.1 L398.3 164.8 L398.4 165.5 L398.4 166.1 L398.5 166.8 L398.5 167.5 L398.5 168.2 L398.6 168.8 L398.6 169.5 L398.7 170.1 L398.7 170.8 L398.8 171.4 L398.8 172.0 L398.8 172.7 L398.9 173.3 L398.9 173.9 L399.0 174.4 L399.0 175.0 L399.0 175.7 L399.1 176.4 L399.1 177.1 L399.2 177.8 L399.2 178.6 L399.3 179.4 L399.3 180.2 L399.4 181.0 L399.4 181.8 L399.5 182.6 L399.5 183.4 L399.6 184.2 L399.6 185.0 L399.7 185.8 L399.7 186.6 L399.8 187.3 L399.8 188.1 L399.9 188.8 L399.9 189.5 L400.0 190.2 L400.0 190.9 L400.1 191.5 L400.1 192.1 L400.2 192.7 L400.2 193.2 L400.3 193.7 L400.3 194.1 L400.4 194.5 L400.4 194.8 L400.5 195.1 L400.5 195.4 L400.6 195.5 L400.6 195.7 L400.7 195.7 L400.8 195.7 L400.8 195.6 L400.9 195.4 L400.9 195.2 L401.0 194.9 L401.0 194.6 L401.1 194.2 L401.1 193.8 L401.2 193.3 L401.3 192.7 L401.3 192.2 L401.4 191.5 L401.4 190.9 L401.5 190.2 L401.6 189.5 L401.6 188.8 L401.7 188.0 L401.7 187.2 L401.8 186.4 L401.8 185.6 L401.9 184.8 L402.0 184.0 L402.0 183.1 L402.1 182.3 L402.1 181.5 L402.2 180.7 L402.2 179.8 L402.3 179.0 L402.3 178.3 L402.4 177.5 L402.4 176.7 L402.5 176.0 L402.5 175.5 L402.6 174.9 L402.6 174.3 L402.7 173.8 L402.7 173.2 L402.7 172.6 L402.8 172.0 L402.8 171.3 L402.8 170.7 L402.9 170.1 L402.9 169.4 L402.9 168.8 L403.0 168.1 L403.0 167.4 L403.1 166.8 L403.1 166.1 L403.1 165.4 L403.2 164.8 L403.2 164.1 L403.2 163.4 L403.3 162.7 L403.3 162.1 L403.3 161.4 L403.4 160.8 L403.4 160.1 L403.4 159.4 L403.5 158.8 L403.5 158.2 L403.5 157.5 L403.6 156.9 L403.6 156.3 L403.6 155.7 L403.7 155.1 L403.7 154.5 L403.7 154.0 L403.8 153.4 L403.8 152.9 L403.8 152.3 L403.9 151.8 L403.9 151.4 L403.9 150.9 L404.0 150.4 L404.0 150.0 L404.1 149.0 L404.2 148.0 L404.2 147.0 L404.3 146.1 L404.4 145.3 L404.5 144.5 L404.5 143.7 L404.6 143.0 L404.7 142.4 L404.8 141.8 L404.8 141.3 L404.9 140.9 L405.0 140.5 L405.1 140.2 L405.1 140.0 L405.2 139.8 L405.3 139.7 L405.4 139.7 L405.5 139.9 L405.6 140.2 L405.7 140.6 L405.8 141.2 L405.9 141.8 L406.0 142.5 L406.1 143.3 L406.2 144.1 L406.3 144.9 L406.4 145.7 L406.6 146.5 L406.7 147.3 L406.8 148.0 L406.9 148.6 L407.0 149.2 L407.1 149.9 L407.2 150.6 L407.3 151.4 L407.4 152.1 L407.5 152.9 L407.6 153.7 L407.7 154.5 L407.8 155.2 L407.9 155.9 L408.0 156.6 L408.1 157.2 L408.2 157.7 L408.4 158.2 L408.5 158.6 L408.6 158.8 L408.7 159.0 L408.9 159.0 L409.1 158.7 L409.3 158.2 L409.5 157.5 L409.7 156.6 L409.9 155.7 L410.1 154.8 L410.3 153.9 L410.5 153.1 L410.6 152.4 L410.8 151.9 L411.0 151.7 L411.2 151.7 L411.4 152.1 L411.6 152.6 L411.8 153.3 L412.0 154.1 L412.2 154.9 L412.4 155.7 L412.6 156.4 L412.8 157.0 L413.1 157.8 L413.4 158.5 L413.6 159.3 L413.9 159.9 L414.2 160.2 L414.4 160.3 L414.6 160.0 L414.7 159.5 L414.9 158.8 L415.1 157.9 L415.2 157.1 L415.4 156.4 L415.5 155.8 L415.7 155.5 L416.0 155.6 L416.3 156.2 L416.6 157.0 L416.9 157.8 L417.3 158.2 L417.9 158.3 L418.6 158.0 L419.3 157.8 L420.0 157.6 L420.6 157.6 L421.2 157.7 L421.8 157.8 L422.4 157.9 L423.0 158.0 L423.7 158.0 L424.3 158.1 L424.9 158.2 L425.5 158.2 L426.1 158.0 L426.8 157.7 L427.4 157.5 L428.0 157.3 L428.6 157.4 L429.2 157.5 L429.9 157.7 L430.5 157.9 L431.1 158.0 L431.8 158.1 L432.4 158.2 L433.0 158.2 L433.6 158.1 L434.2 157.8 L434.9 157.5 L435.5 157.4 L436.1 157.4 L436.8 157.5 L437.4 157.6 L438.0 157.8 L438.6 157.9 L439.2 158.1 L439.9 158.2 L440.5 158.3 L441.1 158.1 L441.8 157.8 L442.4 157.6 L443.0 157.4 L443.6 157.4 L444.2 157.5 L444.9 157.6 L445.5 157.7 L446.1 157.8 L446.8 158.1 L447.4 158.2 L448.0 158.3 L448.6 158.2 L449.2 157.9 L449.9 157.6 L450.5 157.5 L451.1 157.4 L451.8 157.4 L452.4 157.5 L453.0 157.6 L453.6 157.8 L454.2 158.0 L454.9 158.2 L455.5 158.3 L456.1 158.2 L456.8 158.0 L457.4 157.7 L458.0 157.6 L458.6 157.5 L459.2 157.4 L459.9 157.5 L460.5 157.5 L461.1 157.7 L461.8 157.9 L462.4 158.2 L463.0 158.3 L463.6 158.2 L464.2 158.0 L464.9 157.8 L465.5 157.6 L466.1 157.5 L466.8 157.5 L467.4 157.4 L468.0 157.4 L468.6 157.6 L469.2 157.9 L469.9 158.1 L470.5 158.3 L471.1 158.2 L471.8 158.1 L472.4 157.9 L473.0 157.7 L473.6 157.6 L474.2 157.5 L474.9 157.4 L475.5 157.4 L476.1 157.5 L476.8 157.8 L477.4 158.1 L478.0 158.2 L478.6 158.2 L479.2 158.1 L479.9 158.0 L480.5 157.8 L481.1 157.7 L481.8 157.5 L482.4 157.4 L483.0 157.3 L483.6 157.5 L484.2 157.8 L484.8 158.0 L485.5 158.2 L486.2 158.2 L486.9 158.0 L487.6 157.9 L488.4 157.7 L489.0 157.6 L489.8 157.6 L490.5 157.6 L491.3 157.3 L491.7 157.0 L492.0 156.8 L492.4 156.4 L492.8 156.0 L493.2 155.5 L493.6 154.8 L494.0 154.0 L494.2 153.6 L494.4 153.1 L494.5 152.6 L494.7 152.0 L494.9 151.4 L495.1 150.8 L495.3 150.1 L495.5 149.4 L495.7 148.8 L495.9 148.1 L496.1 147.5 L496.3 146.8 L496.5 146.2 L496.6 145.6 L496.8 145.0 L497.0 144.5 L497.3 143.7 L497.5 142.9 L497.8 142.1 L498.0 141.3 L498.3 140.5 L498.5 139.8 L498.8 139.2 L499.0 138.6 L499.2 138.3 L499.5 138.0 L499.7 138.0 L499.9 138.1 L500.1 138.3 L500.2 138.5 L500.4 138.8 L500.6 139.2 L500.7 139.7 L500.9 140.3 L501.0 141.0 L501.2 141.7 L501.4 142.6 L501.5 143.6 L501.7 144.8 L501.8 146.0 L501.8 146.4 L501.9 146.8 L501.9 147.2 L502.0 147.7 L502.0 148.1 L502.1 148.6 L502.1 149.1 L502.1 149.6 L502.2 150.1 L502.2 150.6 L502.2 151.1 L502.3 151.7 L502.3 152.2 L502.4 152.8 L502.4 153.3 L502.4 153.9 L502.5 154.5 L502.5 155.1 L502.5 155.7 L502.6 156.3 L502.6 156.9 L502.6 157.6 L502.7 158.2 L502.7 158.8 L502.8 159.5 L502.8 160.1 L502.8 160.8 L502.9 161.5 L502.9 162.2 L502.9 162.8 L503.0 163.5 L503.0 164.2 L503.1 164.9 L503.1 165.6 L503.1 166.3 L503.2 167.0 L503.2 167.7 L503.3 168.4 L503.3 169.1 L503.4 169.8 L503.4 170.6 L503.5 171.3 L503.5 172.0 L503.5 172.5 L503.6 173.1 L503.6 173.7 L503.6 174.3 L503.7 174.9 L503.7 175.5 L503.8 176.2 L503.8 176.8 L503.8 177.5 L503.9 178.2 L503.9 178.9 L504.0 179.7 L504.0 180.4 L504.0 181.2 L504.1 181.9 L504.1 182.7 L504.2 183.5 L504.2 184.2 L504.2 185.0 L504.3 185.8 L504.3 186.6 L504.4 187.4 L504.4 188.2 L504.5 189.0 L504.5 189.8 L504.5 190.6 L504.6 191.4 L504.6 192.1 L504.7 192.9 L504.7 193.7 L504.8 194.4 L504.8 195.2 L504.8 195.9 L504.9 196.7 L504.9 197.4 L505.0 198.1 L505.0 198.8 L505.1 199.4 L505.1 200.1 L505.2 200.7 L505.2 201.4 L505.2 202.0 L505.3 202.5 L505.3 203.1 L505.4 203.6 L505.4 204.1 L505.5 204.6 L505.5 205.1 L505.5 205.5 L505.6 205.9 L505.6 206.2 L505.7 206.6 L505.7 206.9 L505.8 207.1 L505.8 207.4 L505.8 207.6 L505.9 207.7 L505.9 207.9 L506.0 208.0 L506.0 208.0 L506.0 208.0 L506.1 208.0 L506.1 207.9 L506.2 207.8 L506.2 207.6 L506.3 207.4 L506.3 207.2 L506.4 206.9 L506.4 206.6 L506.4 206.2 L506.5 205.8 L506.5 205.4 L506.6 205.0 L506.6 204.5 L506.7 204.0 L506.7 203.5 L506.8 203.0 L506.8 202.4 L506.8 201.8 L506.9 201.2 L506.9 200.5 L507.0 199.9 L507.0 199.2 L507.1 198.5 L507.1 197.8 L507.1 197.1 L507.2 196.3 L507.2 195.6 L507.3 194.8 L507.3 194.0 L507.4 193.2 L507.4 192.5 L507.4 191.7 L507.5 190.9 L507.5 190.1 L507.6 189.2 L507.6 188.4 L507.7 187.6 L507.7 186.8 L507.7 186.0 L507.8 185.2 L507.8 184.4 L507.9 183.6 L507.9 182.8 L507.9 182.1 L508.0 181.3 L508.0 180.5 L508.0 179.8 L508.1 179.1 L508.1 178.3 L508.2 177.6 L508.2 176.9 L508.2 176.3 L508.3 175.6 L508.3 175.0 L508.3 174.4 L508.4 173.8 L508.4 173.2 L508.4 172.6 L508.5 172.0 L508.5 171.4 L508.5 170.8 L508.6 170.1 L508.6 169.5 L508.6 168.9 L508.6 168.2 L508.7 167.6 L508.7 166.9 L508.7 166.3 L508.8 165.7 L508.8 165.0 L508.8 164.4 L508.8 163.7 L508.9 163.0 L508.9 162.4 L508.9 161.7 L508.9 161.1 L509.0 160.4 L509.0 159.8 L509.0 159.1 L509.0 158.5 L509.1 157.8 L509.1 157.2 L509.1 156.5 L509.1 155.9 L509.2 155.2 L509.2 154.6 L509.2 154.0 L509.2 153.3 L509.3 152.7 L509.3 152.1 L509.3 151.5 L509.3 150.8 L509.4 150.2 L509.4 149.6 L509.4 149.0 L509.4 148.4 L509.5 147.8 L509.5 147.3 L509.5 146.7 L509.5 146.1 L509.5 145.6 L509.6 145.0 L509.6 144.5 L509.6 143.9 L509.6 143.4 L509.7 142.9 L509.7 142.4 L509.7 141.9 L509.7 141.4 L509.8 140.9 L509.8 140.5 L509.8 140.0 L509.8 139.1 L509.9 138.1 L509.9 137.2 L510.0 136.3 L510.0 135.4 L510.1 134.5 L510.1 133.6 L510.2 132.8 L510.2 131.9 L510.2 131.1 L510.3 130.3 L510.3 129.5 L510.4 128.8 L510.4 128.1 L510.4 127.4 L510.5 126.8 L510.5 126.2 L510.6 125.6 L510.6 125.1 L510.6 124.6 L510.7 124.2 L510.7 123.8 L510.8 123.5 L510.8 123.2 L510.9 123.0 L510.9 122.8 L511.0 122.7 L511.0 122.7 L511.0 122.7 L511.1 122.8 L511.1 123.0 L511.2 123.2 L511.2 123.4 L511.3 123.7 L511.3 124.1 L511.4 124.5 L511.4 124.9 L511.5 125.4 L511.5 125.9 L511.6 126.5 L511.6 127.1 L511.7 127.8 L511.7 128.5 L511.8 129.2 L511.8 129.9 L511.9 130.7 L512.0 131.5 L512.0 132.4 L512.1 133.3 L512.1 134.2 L512.2 135.1 L512.2 136.0 L512.3 137.0 L512.4 138.0 L512.4 139.0 L512.5 140.0 L512.5 140.4 L512.6 140.9 L512.6 141.4 L512.6 141.9 L512.6 142.4 L512.7 143.0 L512.7 143.6 L512.7 144.1 L512.8 144.7 L512.8 145.3 L512.8 146.0 L512.9 146.6 L512.9 147.3 L512.9 147.9 L513.0 148.6 L513.0 149.3 L513.0 150.0 L513.1 150.7 L513.1 151.5 L513.1 152.2 L513.2 152.9 L513.2 153.7 L513.2 154.4 L513.3 155.1 L513.3 155.9 L513.3 156.7 L513.4 157.4 L513.4 158.2 L513.4 158.9 L513.5 159.7 L513.5 160.4 L513.5 161.2 L513.6 162.0 L513.6 162.7 L513.7 163.5 L513.7 164.2 L513.7 164.9 L513.8 165.7 L513.8 166.4 L513.8 167.1 L513.9 167.8 L513.9 168.5 L513.9 169.2 L514.0 169.8 L514.0 170.5 L514.0 171.1 L514.1 171.8 L514.1 172.4 L514.1 173.0 L514.2 173.6 L514.2 174.1 L514.2 174.7 L514.3 175.2 L514.3 175.7 L514.3 176.2 L514.4 176.7 L514.4 177.1 L514.4 177.5 L514.5 177.9 L514.5 178.3 L514.5 178.7 L514.6 179.0 L514.6 179.3 L514.6 179.5 L514.7 179.8 L514.7 180.0 L514.8 180.5 L514.9 180.7 L515.0 180.8 L515.0 180.7 L515.1 180.4 L515.2 180.0 L515.3 179.5 L515.3 178.9 L515.4 178.2 L515.5 177.3 L515.6 176.5 L515.6 175.5 L515.7 174.6 L515.8 173.6 L515.9 172.6 L515.9 171.6 L516.0 170.6 L516.1 169.6 L516.2 168.8 L516.2 167.9 L516.3 167.2 L516.4 166.5 L516.5 166.0 L516.7 165.2 L516.8 164.4 L517.0 163.7 L517.2 163.0 L517.3 162.3 L517.5 161.7 L517.7 161.1 L517.9 160.6 L518.0 160.0 L518.2 159.5 L518.4 159.0 L518.5 158.5 L518.7 158.0 L518.9 157.2 L519.2 156.5 L519.4 155.9 L519.6 155.3 L519.9 154.7 L520.1 154.1 L520.3 153.6 L520.5 153.0 L520.7 152.3 L521.0 151.4 L521.2 150.6 L521.4 149.8 L521.6 149.2 L521.8 148.8 L522.0 148.7 L522.2 148.9 L522.3 149.2 L522.5 149.7 L522.7 150.4 L522.8 151.1 L523.0 151.8 L523.2 152.6 L523.3 153.3 L523.5 154.0 L523.6 154.6 L523.8 155.4 L523.9 156.2 L524.1 157.0 L524.2 157.8 L524.3 158.5 L524.5 159.2 L524.6 159.7 L524.8 159.9 L525.0 160.0 L525.1 159.8 L525.3 159.4 L525.5 158.8 L525.6 158.1 L525.8 157.3 L526.0 156.5 L526.2 155.6 L526.3 154.8 L526.5 154.0 L526.7 153.3 L526.9 152.8 L527.1 152.5 L527.3 152.4 L527.5 152.5 L527.6 152.8 L527.8 153.3 L528.0 153.9 L528.2 154.6 L528.4 155.3 L528.6 156.1 L528.7 156.9 L528.9 157.8 L529.1 158.5 L529.3 159.3 L529.5 159.9 L529.7 160.4 L529.8 160.8 L530.0 161.0 L530.3 161.0 L530.5 160.6 L530.8 160.0 L531.0 159.2 L531.3 158.3 L531.5 157.4 L531.8 156.7 L532.0 156.2 L532.3 156.0 L532.6 156.2 L532.8 156.6 L533.1 157.3 L533.4 158.0 L533.6 158.8 L533.9 159.6 L534.2 160.3 L534.4 160.8 L534.7 161.0 L535.0 160.8 L535.4 160.3 L535.7 159.5 L536.0 158.7 L536.4 157.9 L536.7 157.3 L537.0 157.0 L537.4 157.2 L537.7 157.7 L538.0 158.4 L538.3 159.2 L538.7 159.8 L539.0 160.0 L539.3 159.8 L539.7 159.2 L540.0 158.5 L540.3 157.8 L540.7 157.3 L541.0 157.0 L541.4 157.2 L541.8 157.8 L542.2 158.6 L542.6 159.2 L543.0 159.5 L543.5 159.3 L543.9 158.6 L544.4 157.9 L545.0 157.5 L545.5 157.4 L546.1 157.5 L546.7 157.7 L547.3 157.9 L548.0 158.0 L548.6 158.1 L549.2 158.1 L549.9 158.1 L550.6 158.2 L551.3 158.3 L552.0 158.5 L552.5 158.8 L553.1 159.1 L553.7 159.6 L554.2 160.0 L554.8 160.5 L555.3 160.9 L555.8 161.2 L556.3 161.3 L556.9 161.3 L557.5 161.0 L558.0 160.5 L558.5 160.0 L559.0 159.5 L559.4 159.0 L559.9 158.4 L560.3 157.7 L560.8 157.1 L561.2 156.6 L561.6 156.4 L562.1 156.5 L562.6 157.0 L563.1 157.6 L563.5 158.2 L564.0 158.5 L564.7 158.4 L565.3 157.9 L566.0 157.5 L566.5 157.4 L567.2 157.2 L567.8 157.2 L568.4 157.1 L569.0 157.1 L569.7 157.2 L570.3 157.5 L570.9 157.7 L571.5 157.8 L572.1 157.7 L572.8 157.5 L573.4 157.3 L574.0 157.3 L574.6 157.4 L575.2 157.6 L575.9 157.8 L576.5 157.9 L577.1 157.9 L577.8 157.7 L578.4 157.5 L579.0 157.4 L579.6 157.5 L580.2 157.8 L580.9 158.0 L581.5 158.1 L582.1 158.0 L582.8 157.9 L583.4 157.7 L584.0 157.6 L584.6 157.7 L585.2 157.9 L585.9 158.1 L586.5 158.2 L587.1 158.1 L587.8 158.0 L588.4 157.8 L589.0 157.8 L589.6 157.9 L590.2 158.0 L590.9 158.2 L591.5 158.3 L592.1 158.2 L592.8 158.1 L593.4 158.0 L594.0 157.9 L594.6 158.0 L595.2 158.1 L595.9 158.3 L596.5 158.3 L597.1 158.3 L597.8 158.2 L598.4 158.1 L599.0 158.1 L599.6 158.1 L600.2 158.2 L600.9 158.3 L601.5 158.3 L602.1 158.3 L602.8 158.3 L603.4 158.2 L604.0 158.2 L604.6 158.2 L605.2 158.3 L605.9 158.3 L606.5 158.3 L607.1 158.3 L607.8 158.3 L608.4 158.3 L609.0 158.3 L609.6 158.3 L610.2 158.3 L610.9 158.3 L611.5 158.3 L612.1 158.3 L612.8 158.3 L613.4 158.4 L614.0 158.4 L614.6 158.3 L615.2 158.3 L615.9 158.2 L616.5 158.2 L617.1 158.2 L617.8 158.3 L618.4 158.4 L619.0 158.4 L619.6 158.3 L620.2 158.2 L620.9 158.1 L621.5 158.1 L622.1 158.1 L622.8 158.2 L623.4 158.3 L624.0 158.4 L624.6 158.3 L625.2 158.2 L625.9 158.0 L626.5 157.9 L627.1 158.0 L627.8 158.1 L628.4 158.3 L629.0 158.3 L629.6 158.2 L630.2 158.1 L630.9 157.9 L631.5 157.8 L632.1 157.9 L632.8 158.0 L633.4 158.2 L634.0 158.3 L634.6 158.2 L635.2 157.9 L635.9 157.7 L636.5 157.6 L637.1 157.7 L637.8 157.9 L638.4 158.1 L639.0 158.1 L639.6 158.0 L640.2 157.8 L640.9 157.6 L641.5 157.5 L642.1 157.6 L642.8 157.7 L643.4 157.9 L644.0 158.0 L644.6 157.9 L645.2 157.7 L645.9 157.4 L646.5 157.3 L647.1 157.4 L647.8 157.6 L648.4 157.8 L649.0 157.8 L649.6 157.7 L650.2 157.5 L650.8 157.3 L651.5 157.2 L652.1 157.2 L652.9 157.2 L653.6 157.3 L654.3 157.4 L655.0 157.5 L655.6 157.5 L656.2 157.4 L656.8 157.3 L657.4 157.4 L658.0 157.8 L658.3 158.2 L658.6 158.6 L658.9 159.2 L659.3 159.9 L659.6 160.6 L659.9 161.3 L660.3 162.0 L660.6 162.5 L660.9 163.0 L661.2 163.3 L661.5 163.5 L661.9 163.4 L662.3 163.1 L662.6 162.5 L663.0 161.9 L663.3 161.1 L663.6 160.3 L664.0 159.6 L664.3 159.0 L664.7 158.3 L665.1 157.6 L665.5 156.9 L665.8 156.2 L666.2 155.6 L666.6 155.2 L666.9 155.0 L667.3 155.1 L667.6 155.5 L668.0 156.1 L668.3 156.8 L668.6 157.4 L669.0 158.0 L669.5 158.6 L670.0 159.3 L670.4 159.9 L670.9 160.4 L671.4 160.5 L671.8 160.3 L672.1 159.8 L672.4 159.1 L672.8 158.5 L673.1 157.9 L673.5 157.5 L674.1 157.4 L674.7 157.5 L675.3 157.7 L676.0 157.8 L676.6 157.8 L677.2 157.8 L677.8 157.7 L678.4 157.7 L679.0 157.7 L679.7 157.8 L680.3 158.0 L680.9 158.1 L681.5 158.2 L682.1 158.1 L682.8 157.9 L683.4 157.7 L684.0 157.6 L684.6 157.7 L685.2 157.9 L685.9 158.1 L686.5 158.2 L687.1 158.1 L687.8 157.9 L688.4 157.8 L689.0 157.7 L689.6 157.7 L690.2 157.8 L690.9 157.9 L691.5 158.0 L692.1 158.0 L692.8 158.0 L693.4 157.9 L694.0 157.9 L694.6 157.9 L695.2 157.8 L695.9 157.8 L696.5 157.8 L697.1 157.9 L697.8 158.0 L698.4 158.1 L699.0 158.1 L699.6 158.0 L700.2 157.9 L700.9 157.7 L701.5 157.6 L702.1 157.7 L702.8 157.9 L703.4 158.1 L704.0 158.2 L704.6 158.1 L705.2 157.9 L705.9 157.7 L706.5 157.6 L707.1 157.7 L707.8 157.9 L708.4 158.0 L709.0 158.1 L709.6 158.1 L710.2 158.0 L710.9 157.9 L711.5 157.8 L712.1 157.8 L712.8 157.8 L713.4 157.9 L714.0 157.9 L714.6 157.9 L715.2 158.0 L715.9 158.0 L716.5 158.0 L717.1 157.9 L717.8 157.8 L718.4 157.7 L719.0 157.7 L719.6 157.8 L720.2 157.9 L720.9 158.1 L721.5 158.2 L722.1 158.1 L722.8 157.9 L723.4 157.7 L724.0 157.6 L724.6 157.7 L725.2 157.9 L725.9 158.1 L726.5 158.2 L727.1 158.1 L727.8 157.9 L728.4 157.8 L729.0 157.7 L729.6 157.7 L730.2 157.8 L730.9 157.9 L731.5 158.0 L732.1 158.0 L732.8 158.0 L733.4 157.9 L734.0 157.9 L734.6 157.9 L735.2 157.8 L735.9 157.8 L736.5 157.8 L737.1 157.9 L737.8 158.0 L738.4 158.1 L739.0 158.1 L739.6 158.0 L740.2 157.9 L740.9 157.7 L741.5 157.6 L742.1 157.7 L742.8 157.9 L743.4 158.1 L744.0 158.2 L744.6 158.1 L745.2 157.9 L745.9 157.7 L746.5 157.6 L747.1 157.7 L747.7 157.8 L748.3 158.0 L749.0 158.1 L749.6 158.1 L750.2 158.1 L750.8 158.1 L751.4 158.1 L752.0 158.0 L752.6 158.0 L753.2 157.9 L753.7 157.8 L754.4 157.7 L755.0 157.5 L755.5 157.2 L756.0 156.8 L756.5 156.4 L757.1 155.9 L757.6 155.5 L758.2 155.3 L758.7 155.3 L759.2 155.5 L759.6 155.8 L760.1 156.2 L760.6 156.7 L761.0 157.2 L761.5 157.8 L762.0 158.4 L762.5 159.0 L762.9 159.5 L763.3 160.1 L763.7 160.7 L764.1 161.4 L764.6 162.1 L765.0 162.7 L765.4 163.3 L765.8 163.8 L766.2 164.2 L766.6 164.4 L766.9 164.5 L767.2 164.4 L767.5 164.0 L767.7 163.5 L768.0 162.9 L768.2 162.2 L768.4 161.5 L768.7 160.7 L768.9 160.0 L769.1 159.2 L769.3 158.6 L769.5 158.0 L769.8 157.3 L770.1 156.5 L770.4 155.7 L770.7 155.0 L771.0 154.4 L771.2 153.9 L771.5 153.5 L771.8 153.4 L772.1 153.5 L772.3 153.8 L772.6 154.3 L772.9 155.0 L773.1 155.7 L773.4 156.4 L773.7 157.2 L774.0 158.0 L774.2 158.6 L774.4 159.2 L774.6 160.0 L774.9 160.7 L775.1 161.5 L775.3 162.3 L775.5 163.1 L775.8 163.8 L776.0 164.4 L776.2 164.8 L776.5 165.2 L776.7 165.3 L777.0 165.2 L777.2 164.9 L777.5 164.5 L777.7 163.9 L778.0 163.2 L778.2 162.5 L778.5 161.7 L778.7 160.9 L779.0 160.2 L779.2 159.5 L779.5 159.0 L779.9 158.3 L780.3 157.6 L780.8 156.9 L781.2 156.3 L781.6 155.9 L782.0 155.5 L782.4 155.3 L782.9 155.4 L783.4 155.8 L783.9 156.3 L784.5 157.0 L785.0 157.5 L785.5 157.9 L786.0 158.3 L786.5 158.8 L787.1 159.2 L787.6 159.5 L788.0 159.6 L788.6 159.4 L789.1 158.9 L789.5 158.3 L790.0 158.0 L790.6 158.1 L791.3 158.3 L792.0 158.5 L792.6 158.3 L793.2 158.0 L793.9 157.8 L794.5 157.7 L795.1 157.9 L795.8 158.2 L796.4 158.6 L797.0 158.8 L797.6 158.6 L798.2 158.3 L798.9 158.0 L799.5 157.8 L800.1 157.8 L800.8 158.0 L801.4 158.2 L802.0 158.3 L802.6 158.4 L803.2 158.5 L803.9 158.5 L804.5 158.4 L805.1 158.3 L805.8 158.0 L806.4 157.8 L807.0 157.7 L807.6 157.9 L808.2 158.3 L808.9 158.6 L809.5 158.8 L810.1 158.6 L810.8 158.3 L811.4 157.9 L812.0 157.7 L812.6 157.8 L813.2 158.0 L813.9 158.2 L814.5 158.4 L815.1 158.5 L815.8 158.5 L816.4 158.4 L817.0 158.4 L817.6 158.2 L818.2 158.0 L818.9 157.8 L819.5 157.7 L820.1 157.9 L820.8 158.3 L821.4 158.6 L822.0 158.8 L822.6 158.6 L823.2 158.3 L823.9 157.9 L824.5 157.7 L825.1 157.8 L825.8 158.0 L826.4 158.3 L827.0 158.4 L827.6 158.5 L828.2 158.4 L828.9 158.3 L829.5 158.3 L830.2 158.3 L830.9 158.4 L831.6 158.5 L832.0 158.5" fill="none" stroke="#000" stroke-width="2.0" stroke-linejoin="round"/>
<rect x="160.5" y="11" width="672.7" height="481.3" fill="none" stroke="#000" stroke-width="3.4"/>
<path d="M202.5 492.3 V487.8 M202.5 11.0 V15.5 M244.6 492.3 V483.8 M244.6 11.0 V19.5 M286.6 492.3 V487.8 M286.6 11.0 V15.5 M328.7 492.3 V483.8 M328.7 11.0 V19.5 M370.7 492.3 V487.8 M370.7 11.0 V15.5 M412.8 492.3 V483.8 M412.8 11.0 V19.5 M454.8 492.3 V487.8 M454.8 11.0 V15.5 M496.9 492.3 V483.8 M496.9 11.0 V19.5 M538.9 492.3 V487.8 M538.9 11.0 V15.5 M580.9 492.3 V483.8 M580.9 11.0 V19.5 M623.0 492.3 V487.8 M623.0 11.0 V15.5 M665.0 492.3 V483.8 M665.0 11.0 V19.5 M707.1 492.3 V487.8 M707.1 11.0 V15.5 M749.1 492.3 V483.8 M749.1 11.0 V19.5 M791.2 492.3 V487.8 M791.2 11.0 V15.5 M160.5 455.4 H169.0 M833.2 455.4 H824.7 M160.5 406.0 H165.0 M833.2 406.0 H828.7 M160.5 356.7 H169.0 M833.2 356.7 H824.7 M160.5 307.3 H165.0 M833.2 307.3 H828.7 M160.5 257.9 H169.0 M833.2 257.9 H824.7 M160.5 208.5 H165.0 M833.2 208.5 H828.7 M160.5 159.1 H169.0 M833.2 159.1 H824.7 M160.5 109.7 H165.0 M833.2 109.7 H828.7 M160.5 60.3 H169.0 M833.2 60.3 H824.7" stroke="#000" stroke-width="3.2" stroke-linecap="round"/>
<g font-size="36"><text x="160.5" y="531" text-anchor="middle">-5</text><text x="244.6" y="531" text-anchor="middle">0</text><text x="328.7" y="531" text-anchor="middle">5</text><text x="412.8" y="531" text-anchor="middle">10</text><text x="496.9" y="531" text-anchor="middle">15</text><text x="580.9" y="531" text-anchor="middle">20</text><text x="665.0" y="531" text-anchor="middle">25</text><text x="749.1" y="531" text-anchor="middle">30</text><text x="833.2" y="531" text-anchor="middle">35</text><text x="151" y="71.0" text-anchor="end">0.04</text><text x="151" y="169.8" text-anchor="end">0.00</text><text x="151" y="268.6" text-anchor="end">-0.04</text><text x="151" y="367.4" text-anchor="end">-0.08</text><text x="151" y="466.1" text-anchor="end">-0.12</text>
<text x="496" y="589" text-anchor="middle">time delay (ps)</text>
<text transform="translate(32,244) rotate(-90)" text-anchor="middle" font-size="36.4">electric field (arb.u.)</text>
</g>
<rect x="510.5" y="220.6" width="290.4" height="191.7" fill="#fff" stroke="none"/>
<path d="M511.6 296.0 L512.2 319.0 L512.8 286.0 L513.4 311.0 L514.0 281.0 L514.6 292.0 L515.2 272.0 L515.8 264.7 L516.8 270.7 L518.0 266.9 L519.1 268.0 L520.1 255.3 L521.1 262.2 L522.3 258.8 L523.4 259.7 L524.4 245.6 L525.4 251.6 L526.6 248.1 L527.7 248.4 L528.7 238.0 L529.7 245.6 L530.9 241.2 L532.0 241.7 L533.0 232.6 L534.0 241.0 L535.2 235.6 L536.3 237.1 L537.3 228.2 L538.3 235.4 L539.5 231.5 L540.6 233.2 L541.6 227.7 L542.6 233.3 L543.8 230.0 L544.9 231.7 L545.9 226.4 L546.9 233.1 L548.1 228.4 L549.2 229.9 L550.2 225.2 L551.2 231.5 L552.4 228.8 L553.5 229.2 L554.5 225.0 L555.5 232.4 L556.7 228.5 L557.8 229.8 L558.8 226.1 L559.8 232.7 L561.0 228.4 L562.1 230.6 L563.1 227.8 L564.1 233.9 L565.3 229.8 L566.4 231.7 L567.4 227.9 L568.4 234.4 L569.6 230.3 L570.7 231.8 L571.7 229.8 L572.7 236.5 L573.9 232.6 L575.0 233.5 L576.0 232.1 L577.0 238.0 L578.2 233.4 L579.3 235.2 L580.3 232.6 L581.3 239.4 L582.5 235.6 L583.6 237.4 L584.6 235.4 L585.6 242.0 L586.8 237.7 L587.9 240.1 L588.9 237.6 L589.9 244.3 L591.1 240.7 L592.2 241.7 L593.2 239.2 L594.2 246.9 L595.4 241.6 L596.5 243.1 L597.5 241.6 L598.5 248.1 L599.7 244.6 L600.8 245.2 L601.8 243.8 L602.8 249.0 L604.0 246.4 L605.1 247.5 L606.1 246.1 L607.1 251.3 L608.3 248.1 L609.4 249.7 L610.4 248.6 L611.4 254.2 L612.6 250.3 L613.7 252.2 L614.7 250.0 L615.7 257.7 L616.9 253.4 L618.0 254.3 L619.0 254.2 L620.0 261.1 L621.2 255.9 L622.3 257.4 L623.3 258.1 L624.3 263.5 L625.5 260.4 L626.6 261.4 L627.6 260.3 L628.6 266.5 L629.8 263.7 L630.9 264.2 L631.9 263.2 L632.9 269.5 L634.1 264.9 L635.2 267.1 L636.2 265.5 L637.2 272.2 L638.4 267.9 L639.5 268.9 L640.5 267.6 L641.5 275.4 L642.7 270.5 L643.8 272.7 L644.8 271.8 L645.8 277.9 L647.0 274.7 L648.1 275.7 L649.1 276.5 L650.1 281.4 L651.3 278.7 L652.4 279.2 L653.4 281.4 L654.4 285.0 L655.6 283.4 L656.7 283.5 L657.7 285.8 L658.7 289.5 L659.9 287.4 L661.0 288.3 L662.0 286.6 L663.0 290.7 L664.2 288.7 L665.3 289.2 L666.3 287.6 L667.3 291.3 L668.5 288.8 L669.6 290.5 L670.6 288.6 L671.6 292.9 L672.8 290.7 L673.9 290.8 L674.9 290.2 L675.9 294.2 L677.1 291.5 L678.2 292.4 L679.2 294.3 L680.2 298.7 L681.4 295.4 L682.5 296.1 L683.5 299.0 L684.5 302.9 L685.7 300.8 L686.8 302.2 L687.8 300.3 L688.8 305.5 L690.0 302.8 L691.1 303.3 L692.1 302.3 L693.1 306.7 L694.3 303.6 L695.4 304.8 L696.4 302.9 L697.4 306.7 L698.6 304.1 L699.7 305.7 L700.7 302.3 L701.7 306.8 L702.9 304.0 L704.0 305.2 L705.0 302.3 L706.0 305.7 L707.2 303.6 L708.3 303.8 L709.3 302.2 L710.3 305.2 L711.5 303.3 L712.6 304.1 L713.6 301.0 L714.6 305.1 L715.8 302.6 L716.9 304.1 L717.9 300.8 L718.9 304.9 L720.1 303.0 L721.2 303.3 L722.2 301.6 L723.2 304.7 L724.4 302.7 L725.5 303.8 L726.5 301.5 L727.5 305.6 L728.7 303.2 L729.8 304.3 L730.8 303.4 L731.8 306.9 L733.0 304.2 L734.1 305.5 L735.1 304.3 L736.1 308.3 L737.3 306.3 L738.4 307.1 L739.4 307.1 L740.4 311.0 L741.6 308.1 L742.7 309.1 L743.7 307.1 L744.7 311.2 L745.9 308.3 L747.0 309.0 L748.0 312.1 L749.0 315.1 L750.2 312.9 L751.3 314.2" fill="none" stroke="#000" stroke-width="1.6" stroke-linejoin="round"/>
<path d="M746.0 310.6 L746.5 308.8 L747.1 310.4 L747.6 313.1 L748.2 313.5 L748.7 312.5 L749.3 313.5 L749.8 315.0 L750.4 315.8 L750.9 318.3 L751.5 318.2 L752.0 324.4 L752.6 320.0 L753.1 328.0 L753.7 321.5 L754.2 327.7 L754.8 323.9 L755.3 333.7 L755.9 324.6 L756.4 336.1 L757.0 328.1 L757.5 343.0 L758.1 331.9 L758.6 349.8 L759.2 334.2 L759.7 354.9 L760.3 335.0 L760.8 357.8 L761.4 337.8 L761.9 363.3 L762.5 338.8 L763.0 369.0 L763.6 342.7 L764.1 373.4 L764.7 343.8 L765.2 379.1 L765.8 344.2 L766.3 392.4 L766.9 346.3 L767.4 400.7 L768.0 347.5 L768.5 404.7 L769.1 348.3 L769.6 399.3 L770.2 348.6 L770.7 411.0 L771.3 348.4 L771.8 409.9 L772.4 348.0 L772.9 388.6 L773.5 348.2 L774.0 408.9 L774.6 350.9 L775.1 389.3 L775.7 351.3 L776.2 391.6 L776.8 349.7 L777.3 407.4 L777.9 349.1 L778.4 387.7 L779.0 350.0 L779.5 386.7 L780.1 349.1 L780.6 386.3 L781.2 350.8 L781.7 397.4 L782.3 349.0 L782.8 408.7 L783.4 351.5 L783.9 394.7 L784.5 350.3 L785.0 390.8 L785.6 350.8 L786.1 405.6 L786.7 351.5 L787.2 400.1 L787.8 350.1 L788.3 390.0 L788.9 349.3 L789.4 398.5 L790.0 350.8 L790.5 411.0 L791.1 348.4 L791.6 411.0 L792.2 350.2 L792.7 391.8 L793.3 347.8 L793.8 391.2 L794.4 348.6 L794.9 410.8 L795.5 347.0 L796.0 391.1 L796.6 346.4 L797.1 400.7 L797.7 346.7 L798.2 391.7 L798.8 346.3 L799.3 394.3 L799.9 347.8 L800.4 411.0" fill="none" stroke="#000" stroke-width="1.1"/>
<rect x="510.5" y="220.6" width="290.4" height="191.7" fill="none" stroke="#000" stroke-width="1.8"/>
<path d="M528.6 412.3 V409.8 M528.6 220.6 V223.1 M546.8 412.3 V408.3 M546.8 220.6 V224.6 M565.0 412.3 V409.8 M565.0 220.6 V223.1 M583.1 412.3 V408.3 M583.1 220.6 V224.6 M601.2 412.3 V409.8 M601.2 220.6 V223.1 M619.4 412.3 V408.3 M619.4 220.6 V224.6 M637.5 412.3 V409.8 M637.5 220.6 V223.1 M655.7 412.3 V408.3 M655.7 220.6 V224.6 M673.9 412.3 V409.8 M673.9 220.6 V223.1 M692.0 412.3 V408.3 M692.0 220.6 V224.6 M710.1 412.3 V409.8 M710.1 220.6 V223.1 M728.3 412.3 V408.3 M728.3 220.6 V224.6 M746.5 412.3 V409.8 M746.5 220.6 V223.1 M764.6 412.3 V408.3 M764.6 220.6 V224.6 M782.8 412.3 V409.8 M782.8 220.6 V223.1 M510.5 405.9 H512.7 M800.9 405.9 H798.7 M510.5 402.1 H512.7 M800.9 402.1 H798.7 M510.5 399.5 H512.7 M800.9 399.5 H798.7 M510.5 397.4 H512.7 M800.9 397.4 H798.7 M510.5 395.7 H512.7 M800.9 395.7 H798.7 M510.5 394.3 H512.7 M800.9 394.3 H798.7 M510.5 393.1 H512.7 M800.9 393.1 H798.7 M510.5 392.0 H512.7 M800.9 392.0 H798.7 M510.5 391.0 H514.5 M800.9 391.0 H796.9 M510.5 384.6 H512.7 M800.9 384.6 H798.7 M510.5 380.8 H512.7 M800.9 380.8 H798.7 M510.5 378.2 H512.7 M800.9 378.2 H798.7 M510.5 376.1 H512.7 M800.9 376.1 H798.7 M510.5 374.4 H512.7 M800.9 374.4 H798.7 M510.5 373.0 H512.7 M800.9 373.0 H798.7 M510.5 371.8 H512.7 M800.9 371.8 H798.7 M510.5 370.7 H512.7 M800.9 370.7 H798.7 M510.5 369.7 H514.5 M800.9 369.7 H796.9 M510.5 363.3 H512.7 M800.9 363.3 H798.7 M510.5 359.5 H512.7 M800.9 359.5 H798.7 M510.5 356.9 H512.7 M800.9 356.9 H798.7 M510.5 354.8 H512.7 M800.9 354.8 H798.7 M510.5 353.1 H512.7 M800.9 353.1 H798.7 M510.5 351.7 H512.7 M800.9 351.7 H798.7 M510.5 350.5 H512.7 M800.9 350.5 H798.7 M510.5 349.4 H512.7 M800.9 349.4 H798.7 M510.5 348.4 H514.5 M800.9 348.4 H796.9 M510.5 342.0 H512.7 M800.9 342.0 H798.7 M510.5 338.2 H512.7 M800.9 338.2 H798.7 M510.5 335.6 H512.7 M800.9 335.6 H798.7 M510.5 333.5 H512.7 M800.9 333.5 H798.7 M510.5 331.8 H512.7 M800.9 331.8 H798.7 M510.5 330.4 H512.7 M800.9 330.4 H798.7 M510.5 329.2 H512.7 M800.9 329.2 H798.7 M510.5 328.1 H512.7 M800.9 328.1 H798.7 M510.5 327.1 H514.5 M800.9 327.1 H796.9 M510.5 320.7 H512.7 M800.9 320.7 H798.7 M510.5 316.9 H512.7 M800.9 316.9 H798.7 M510.5 314.3 H512.7 M800.9 314.3 H798.7 M510.5 312.2 H512.7 M800.9 312.2 H798.7 M510.5 310.5 H512.7 M800.9 310.5 H798.7 M510.5 309.1 H512.7 M800.9 309.1 H798.7 M510.5 307.9 H512.7 M800.9 307.9 H798.7 M510.5 306.8 H512.7 M800.9 306.8 H798.7 M510.5 305.8 H514.5 M800.9 305.8 H796.9 M510.5 299.4 H512.7 M800.9 299.4 H798.7 M510.5 295.6 H512.7 M800.9 295.6 H798.7 M510.5 293.0 H512.7 M800.9 293.0 H798.7 M510.5 290.9 H512.7 M800.9 290.9 H798.7 M510.5 289.2 H512.7 M800.9 289.2 H798.7 M510.5 287.8 H512.7 M800.9 287.8 H798.7 M510.5 286.6 H512.7 M800.9 286.6 H798.7 M510.5 285.5 H512.7 M800.9 285.5 H798.7 M510.5 284.5 H514.5 M800.9 284.5 H796.9 M510.5 278.1 H512.7 M800.9 278.1 H798.7 M510.5 274.3 H512.7 M800.9 274.3 H798.7 M510.5 271.7 H512.7 M800.9 271.7 H798.7 M510.5 269.6 H512.7 M800.9 269.6 H798.7 M510.5 267.9 H512.7 M800.9 267.9 H798.7 M510.5 266.5 H512.7 M800.9 266.5 H798.7 M510.5 265.3 H512.7 M800.9 265.3 H798.7 M510.5 264.2 H512.7 M800.9 264.2 H798.7 M510.5 263.2 H514.5 M800.9 263.2 H796.9 M510.5 256.8 H512.7 M800.9 256.8 H798.7 M510.5 253.0 H512.7 M800.9 253.0 H798.7 M510.5 250.4 H512.7 M800.9 250.4 H798.7 M510.5 248.3 H512.7 M800.9 248.3 H798.7 M510.5 246.6 H512.7 M800.9 246.6 H798.7 M510.5 245.2 H512.7 M800.9 245.2 H798.7 M510.5 244.0 H512.7 M800.9 244.0 H798.7 M510.5 242.9 H512.7 M800.9 242.9 H798.7 M510.5 241.9 H514.5 M800.9 241.9 H796.9 M510.5 235.5 H512.7 M800.9 235.5 H798.7 M510.5 231.7 H512.7 M800.9 231.7 H798.7 M510.5 229.1 H512.7 M800.9 229.1 H798.7 M510.5 227.0 H512.7 M800.9 227.0 H798.7 M510.5 225.3 H512.7 M800.9 225.3 H798.7 M510.5 223.9 H512.7 M800.9 223.9 H798.7 M510.5 222.7 H512.7 M800.9 222.7 H798.7 M510.5 221.6 H512.7 M800.9 221.6 H798.7" stroke="#000" stroke-width="1.5"/>
<g font-size="29"><text x="510.5" y="439.6" text-anchor="middle">0</text><text x="546.8" y="439.6" text-anchor="middle">1</text><text x="583.1" y="439.6" text-anchor="middle">2</text><text x="619.4" y="439.6" text-anchor="middle">3</text><text x="655.7" y="439.6" text-anchor="middle">4</text><text x="692.0" y="439.6" text-anchor="middle">5</text><text x="728.3" y="439.6" text-anchor="middle">6</text><text x="764.6" y="439.6" text-anchor="middle">7</text><text x="800.9" y="439.6" text-anchor="middle">8</text><text x="506" y="253.6" text-anchor="end">10<tspan font-size="17" dy="-16">-6</tspan></text><text x="506" y="296.2" text-anchor="end">10<tspan font-size="17" dy="-16">-8</tspan></text><text x="506" y="338.7" text-anchor="end">10<tspan font-size="17" dy="-16">-10</tspan></text><text x="506" y="381.3" text-anchor="end">10<tspan font-size="17" dy="-16">-12</tspan></text><text x="506" y="423.8" text-anchor="end">10<tspan font-size="17" dy="-16">-14</tspan></text>
<text x="655" y="470.2" text-anchor="middle">frequency (THz)</text>
<text transform="translate(435,326) rotate(-90)" text-anchor="middle">spectral power</text>
</g>
<g fill="none" stroke="#9a9a9a" stroke-width="0.8" opacity="0.8"><circle cx="711" cy="485" r="23.5"/><path d="M722 463.5A22 22 0 0 1 720.5 506.5 M724.5 465A21 21 0 0 1 722.5 505.5"/><path d="M690 498A22 22 0 0 0 718 507"/><path d="M700 470H717 M709.5 470V484.5L700 489 M709.5 484.5L722 493.5"/></g>
<g fill="none" stroke="#a0a0a0" stroke-width="1.5" stroke-linecap="butt"><path transform="translate(746.5,465.5)" d="M3 2.5V16 M0.6 8V16.2H5.6 M5.6 8V16.2 M9.5 2L7.8 6 M8.5 5H18 M9.5 9.5H16.5L9.5 17H18.5V14.5"/><path transform="translate(767.7,465.5)" d="M0.5 6.5H6.5 M3.5 1V17L1.8 16 M0.5 13L6.5 10 M8.5 4.5H17.5 M13 1V8 M7.5 8H19 M7.5 11.5H19.5 M15.5 9V17.5L13.5 16.5 M10 13L11.8 15.5"/><path transform="translate(788.9,465.5)" d="M10 1V7.5 M5 2.5L6.8 6 M15.3 2.2L13.5 6 M2 8.5H18 M7.5 8.5V12.5L2.5 18 M12.5 8.5V16.5L13.5 17.5H18.3V15"/><path transform="translate(810.1,465.5)" d="M3 4.5H17V13H3Z M3 8.7H17 M10 1V16.5L11 17.5H18.5V15"/></g>
<text x="747" y="503.5" font-size="12.5" font-weight="bold" fill="#b4b4b4" style="fill:#b4b4b4" textLength="81" lengthAdjust="spacingAndGlyphs">EACHWAVE</text>
</svg>
</body></html>
